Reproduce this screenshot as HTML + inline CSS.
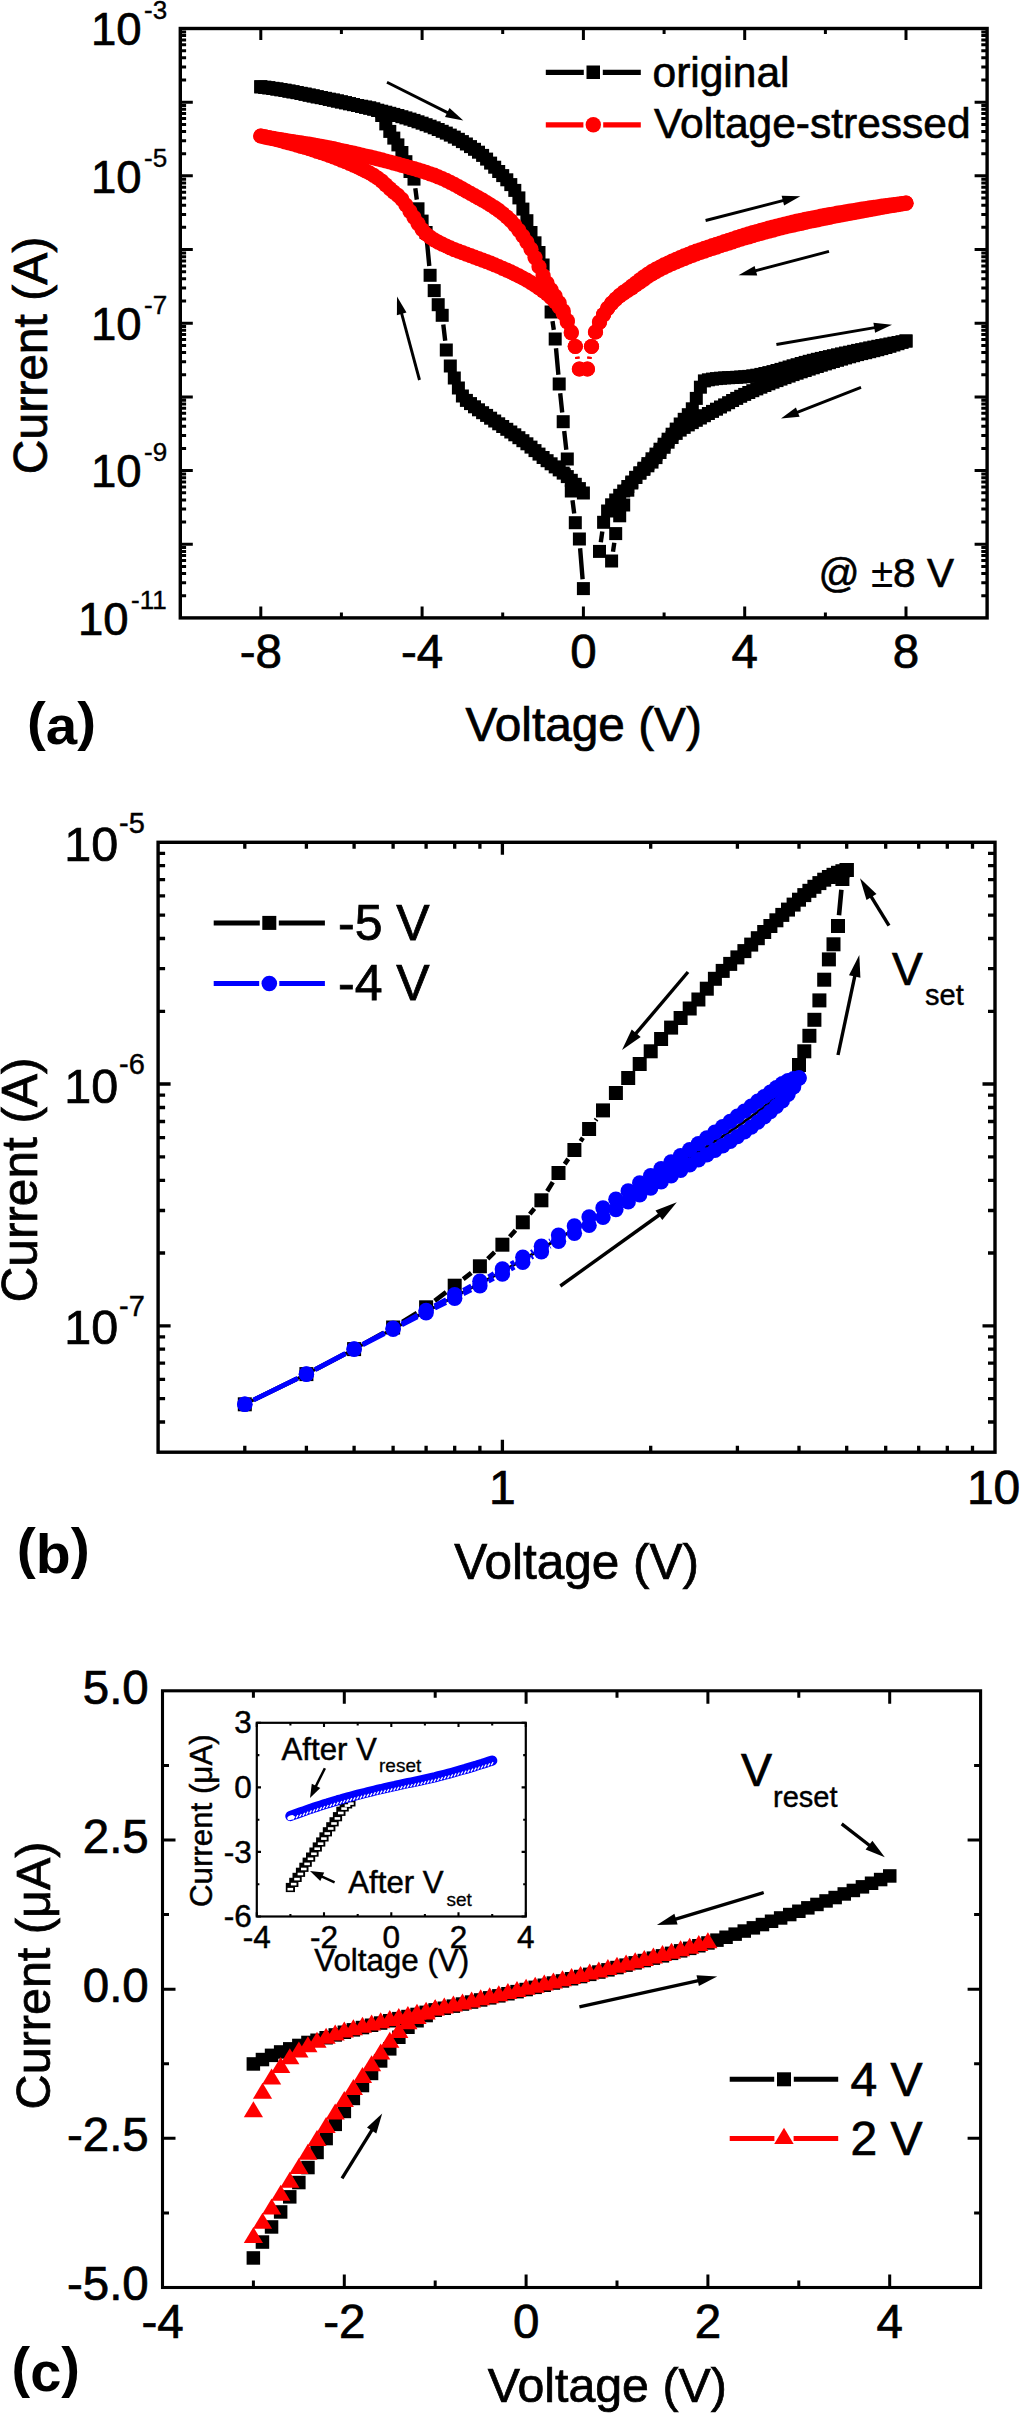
<!DOCTYPE html>
<html lang="en"><head><meta charset="utf-8"><title>I-V characteristics</title>
<style>html,body{margin:0;padding:0;background:#fff}svg{display:block}text{font-family:'Liberation Sans', sans-serif;fill:#000;stroke:#000}</style></head><body>
<svg width="1020" height="2413" viewBox="0 0 1020 2413">
<rect width="1020" height="2413" fill="#fff"/>
<g id="panel-a">
<path d="M544.7 274.2L545.5 278.8 M548.6 297.2L549.6 302.8 M552.5 321.2L553.8 329.8 M556 348.3L558.4 374.7 M560.2 393.2L562.2 412.5 M564.2 430.9L566.3 449.8 M568.4 468.2L570.1 481.8 M572.5 500.2L574.2 513.5 M580.1 548.3L582.6 579.3" stroke="#000" stroke-width="4.4" fill="none"/>
<g fill="#000">
<rect x="254.3" y="80.3" width="13" height="13"/>
<rect x="258.3" y="80.8" width="13" height="13"/>
<rect x="262.3" y="81.3" width="13" height="13"/>
<rect x="266.4" y="81.9" width="13" height="13"/>
<rect x="270.4" y="82.5" width="13" height="13"/>
<rect x="274.4" y="83.2" width="13" height="13"/>
<rect x="278.5" y="83.8" width="13" height="13"/>
<rect x="282.5" y="84.6" width="13" height="13"/>
<rect x="286.5" y="85.3" width="13" height="13"/>
<rect x="290.6" y="86.1" width="13" height="13"/>
<rect x="294.6" y="86.9" width="13" height="13"/>
<rect x="298.6" y="87.7" width="13" height="13"/>
<rect x="302.7" y="88.6" width="13" height="13"/>
<rect x="306.7" y="89.4" width="13" height="13"/>
<rect x="310.7" y="90.3" width="13" height="13"/>
<rect x="314.8" y="91.1" width="13" height="13"/>
<rect x="318.8" y="91.9" width="13" height="13"/>
<rect x="322.8" y="92.8" width="13" height="13"/>
<rect x="326.9" y="93.6" width="13" height="13"/>
<rect x="330.9" y="94.5" width="13" height="13"/>
<rect x="334.9" y="95.4" width="13" height="13"/>
<rect x="339" y="96.3" width="13" height="13"/>
<rect x="343" y="97.2" width="13" height="13"/>
<rect x="347" y="98.1" width="13" height="13"/>
<rect x="351.1" y="99" width="13" height="13"/>
<rect x="355.1" y="99.9" width="13" height="13"/>
<rect x="359.1" y="100.9" width="13" height="13"/>
<rect x="363.2" y="101.8" width="13" height="13"/>
<rect x="367.2" y="102.7" width="13" height="13"/>
<rect x="371.2" y="103.7" width="13" height="13"/>
<rect x="375.2" y="104.7" width="13" height="13"/>
<rect x="379.3" y="105.7" width="13" height="13"/>
<rect x="383.3" y="106.8" width="13" height="13"/>
<rect x="387.3" y="107.9" width="13" height="13"/>
<rect x="391.4" y="109" width="13" height="13"/>
<rect x="395.4" y="110.2" width="13" height="13"/>
<rect x="399.4" y="111.4" width="13" height="13"/>
<rect x="403.5" y="112.6" width="13" height="13"/>
<rect x="407.5" y="113.9" width="13" height="13"/>
<rect x="411.5" y="115.3" width="13" height="13"/>
<rect x="415.6" y="116.7" width="13" height="13"/>
<rect x="419.6" y="118.2" width="13" height="13"/>
<rect x="423.6" y="119.7" width="13" height="13"/>
<rect x="427.7" y="121.3" width="13" height="13"/>
<rect x="431.7" y="123" width="13" height="13"/>
<rect x="435.7" y="124.8" width="13" height="13"/>
<rect x="439.8" y="126.6" width="13" height="13"/>
<rect x="443.8" y="128.6" width="13" height="13"/>
<rect x="447.8" y="130.6" width="13" height="13"/>
<rect x="451.9" y="132.8" width="13" height="13"/>
<rect x="455.9" y="135.1" width="13" height="13"/>
<rect x="459.9" y="137.5" width="13" height="13"/>
<rect x="464" y="140.1" width="13" height="13"/>
<rect x="468" y="142.8" width="13" height="13"/>
<rect x="472" y="145.7" width="13" height="13"/>
<rect x="476.1" y="148.9" width="13" height="13"/>
<rect x="480.1" y="152.6" width="13" height="13"/>
<rect x="484.1" y="156.6" width="13" height="13"/>
<rect x="488.2" y="160.7" width="13" height="13"/>
<rect x="492.2" y="165" width="13" height="13"/>
<rect x="496.2" y="169.1" width="13" height="13"/>
<rect x="500.3" y="173.3" width="13" height="13"/>
<rect x="504.3" y="178.1" width="13" height="13"/>
<rect x="508.3" y="183.9" width="13" height="13"/>
<rect x="512.4" y="191.4" width="13" height="13"/>
<rect x="516.4" y="202.6" width="13" height="13"/>
<rect x="520.4" y="214.2" width="13" height="13"/>
<rect x="524.5" y="226" width="13" height="13"/>
<rect x="528.5" y="236.3" width="13" height="13"/>
<rect x="532.5" y="246" width="13" height="13"/>
<rect x="536.6" y="258.5" width="13" height="13"/>
<rect x="540.6" y="281.5" width="13" height="13"/>
<rect x="544.6" y="305.5" width="13" height="13"/>
<rect x="548.7" y="332.5" width="13" height="13"/>
<rect x="552.7" y="377.5" width="13" height="13"/>
<rect x="556.7" y="415.2" width="13" height="13"/>
<rect x="560.8" y="452.5" width="13" height="13"/>
<rect x="564.8" y="484.5" width="13" height="13"/>
<rect x="568.8" y="516.2" width="13" height="13"/>
<rect x="572.9" y="532.5" width="13" height="13"/>
<rect x="576.9" y="582.1" width="13" height="13"/>
</g>
<path d="M445.2 340.8L443.3 324.5 M429.3 266L427 241.8 M416.8 199.6L415.3 188.3" stroke="#000" stroke-width="4.4" fill="none"/>
<g fill="#000">
<rect x="576.9" y="486.5" width="13" height="13"/>
<rect x="572.9" y="482.1" width="13" height="13"/>
<rect x="568.8" y="477.8" width="13" height="13"/>
<rect x="564.8" y="473.8" width="13" height="13"/>
<rect x="560.8" y="470.1" width="13" height="13"/>
<rect x="556.7" y="466.6" width="13" height="13"/>
<rect x="552.7" y="463.4" width="13" height="13"/>
<rect x="548.7" y="460.4" width="13" height="13"/>
<rect x="544.6" y="457.3" width="13" height="13"/>
<rect x="540.6" y="454.2" width="13" height="13"/>
<rect x="536.6" y="451" width="13" height="13"/>
<rect x="532.5" y="447.6" width="13" height="13"/>
<rect x="528.5" y="444.1" width="13" height="13"/>
<rect x="524.5" y="440.6" width="13" height="13"/>
<rect x="520.4" y="437.3" width="13" height="13"/>
<rect x="516.4" y="434.2" width="13" height="13"/>
<rect x="512.4" y="431.2" width="13" height="13"/>
<rect x="508.3" y="428.3" width="13" height="13"/>
<rect x="504.3" y="425.5" width="13" height="13"/>
<rect x="500.3" y="422.8" width="13" height="13"/>
<rect x="496.2" y="420" width="13" height="13"/>
<rect x="492.2" y="417.3" width="13" height="13"/>
<rect x="488.2" y="414.5" width="13" height="13"/>
<rect x="484.1" y="411.7" width="13" height="13"/>
<rect x="480.1" y="408.9" width="13" height="13"/>
<rect x="476.1" y="406.2" width="13" height="13"/>
<rect x="472" y="403.3" width="13" height="13"/>
<rect x="468" y="400.3" width="13" height="13"/>
<rect x="464" y="397.1" width="13" height="13"/>
<rect x="459.9" y="393.9" width="13" height="13"/>
<rect x="455.9" y="389.5" width="13" height="13"/>
<rect x="451.9" y="381.5" width="13" height="13"/>
<rect x="447.8" y="371.5" width="13" height="13"/>
<rect x="443.8" y="359.5" width="13" height="13"/>
<rect x="439.8" y="343.5" width="13" height="13"/>
<rect x="435.7" y="308.8" width="13" height="13"/>
<rect x="431.7" y="298.2" width="13" height="13"/>
<rect x="427.7" y="284.1" width="13" height="13"/>
<rect x="423.6" y="268.8" width="13" height="13"/>
<rect x="419.6" y="226" width="13" height="13"/>
<rect x="415.6" y="214.6" width="13" height="13"/>
<rect x="411.5" y="202.3" width="13" height="13"/>
<rect x="407.5" y="172.6" width="13" height="13"/>
<rect x="403.5" y="165" width="13" height="13"/>
<rect x="399.4" y="155.2" width="13" height="13"/>
<rect x="395.4" y="146" width="13" height="13"/>
<rect x="391.4" y="138.4" width="13" height="13"/>
<rect x="387.3" y="131.6" width="13" height="13"/>
<rect x="383.3" y="124.9" width="13" height="13"/>
<rect x="379.3" y="117.4" width="13" height="13"/>
<rect x="375.2" y="109" width="13" height="13"/>
<rect x="371.2" y="104" width="13" height="13"/>
<rect x="367.2" y="102.4" width="13" height="13"/>
<rect x="363.2" y="101.3" width="13" height="13"/>
<rect x="359.1" y="100.5" width="13" height="13"/>
<rect x="355.1" y="99.8" width="13" height="13"/>
<rect x="351.1" y="99" width="13" height="13"/>
<rect x="347" y="98.1" width="13" height="13"/>
<rect x="343" y="97.2" width="13" height="13"/>
<rect x="339" y="96.2" width="13" height="13"/>
<rect x="334.9" y="95.4" width="13" height="13"/>
<rect x="330.9" y="94.5" width="13" height="13"/>
<rect x="326.9" y="93.6" width="13" height="13"/>
<rect x="322.8" y="92.8" width="13" height="13"/>
<rect x="318.8" y="91.9" width="13" height="13"/>
<rect x="314.8" y="91.1" width="13" height="13"/>
<rect x="310.7" y="90.3" width="13" height="13"/>
<rect x="306.7" y="89.4" width="13" height="13"/>
<rect x="302.7" y="88.6" width="13" height="13"/>
<rect x="298.6" y="87.7" width="13" height="13"/>
<rect x="294.6" y="86.9" width="13" height="13"/>
<rect x="290.6" y="86.1" width="13" height="13"/>
<rect x="286.5" y="85.3" width="13" height="13"/>
<rect x="282.5" y="84.6" width="13" height="13"/>
<rect x="278.5" y="83.8" width="13" height="13"/>
<rect x="274.4" y="83.2" width="13" height="13"/>
<rect x="270.4" y="82.5" width="13" height="13"/>
<rect x="266.4" y="81.9" width="13" height="13"/>
<rect x="262.3" y="81.3" width="13" height="13"/>
<rect x="258.3" y="80.8" width="13" height="13"/>
<rect x="254.3" y="80.3" width="13" height="13"/>
</g>
<path d="M600.8 542.2L602.3 531.5" stroke="#000" stroke-width="4.4" fill="none"/>
<g fill="#000">
<rect x="593" y="544.9" width="13" height="13"/>
<rect x="597.1" y="515.8" width="13" height="13"/>
<rect x="601.1" y="504.5" width="13" height="13"/>
<rect x="605.1" y="498.3" width="13" height="13"/>
<rect x="609.2" y="493.5" width="13" height="13"/>
<rect x="613.2" y="488.8" width="13" height="13"/>
<rect x="617.2" y="484.5" width="13" height="13"/>
<rect x="621.3" y="480" width="13" height="13"/>
<rect x="625.3" y="475.5" width="13" height="13"/>
<rect x="629.3" y="470.9" width="13" height="13"/>
<rect x="633.4" y="466.4" width="13" height="13"/>
<rect x="637.4" y="461.7" width="13" height="13"/>
<rect x="641.4" y="457.1" width="13" height="13"/>
<rect x="645.5" y="452.3" width="13" height="13"/>
<rect x="649.5" y="447.6" width="13" height="13"/>
<rect x="653.5" y="442.7" width="13" height="13"/>
<rect x="657.6" y="437.7" width="13" height="13"/>
<rect x="661.6" y="432.7" width="13" height="13"/>
<rect x="665.6" y="427.7" width="13" height="13"/>
<rect x="669.7" y="422.6" width="13" height="13"/>
<rect x="673.7" y="417.5" width="13" height="13"/>
<rect x="677.7" y="412.8" width="13" height="13"/>
<rect x="681.8" y="408.2" width="13" height="13"/>
<rect x="685.8" y="402.3" width="13" height="13"/>
<rect x="689.8" y="391.9" width="13" height="13"/>
<rect x="693.9" y="380.7" width="13" height="13"/>
<rect x="697.9" y="374.4" width="13" height="13"/>
<rect x="701.9" y="373.3" width="13" height="13"/>
<rect x="706" y="372.6" width="13" height="13"/>
<rect x="710" y="372.1" width="13" height="13"/>
<rect x="714" y="371.7" width="13" height="13"/>
<rect x="718.1" y="371.4" width="13" height="13"/>
<rect x="722.1" y="371.2" width="13" height="13"/>
<rect x="726.1" y="371" width="13" height="13"/>
<rect x="730.2" y="370.8" width="13" height="13"/>
<rect x="734.2" y="370.5" width="13" height="13"/>
<rect x="738.2" y="370.2" width="13" height="13"/>
<rect x="742.3" y="369.9" width="13" height="13"/>
<rect x="746.3" y="369.3" width="13" height="13"/>
<rect x="750.3" y="368.7" width="13" height="13"/>
<rect x="754.4" y="367.9" width="13" height="13"/>
<rect x="758.4" y="367" width="13" height="13"/>
<rect x="762.4" y="366.1" width="13" height="13"/>
<rect x="766.5" y="365.1" width="13" height="13"/>
<rect x="770.5" y="364" width="13" height="13"/>
<rect x="774.5" y="362.9" width="13" height="13"/>
<rect x="778.5" y="361.7" width="13" height="13"/>
<rect x="782.6" y="360.5" width="13" height="13"/>
<rect x="786.6" y="359.3" width="13" height="13"/>
<rect x="790.6" y="358.2" width="13" height="13"/>
<rect x="794.7" y="357" width="13" height="13"/>
<rect x="798.7" y="355.9" width="13" height="13"/>
<rect x="802.7" y="354.8" width="13" height="13"/>
<rect x="806.8" y="353.8" width="13" height="13"/>
<rect x="810.8" y="352.8" width="13" height="13"/>
<rect x="814.8" y="351.9" width="13" height="13"/>
<rect x="818.9" y="351" width="13" height="13"/>
<rect x="822.9" y="350.1" width="13" height="13"/>
<rect x="826.9" y="349.2" width="13" height="13"/>
<rect x="831" y="348.3" width="13" height="13"/>
<rect x="835" y="347.4" width="13" height="13"/>
<rect x="839" y="346.5" width="13" height="13"/>
<rect x="843.1" y="345.7" width="13" height="13"/>
<rect x="847.1" y="344.8" width="13" height="13"/>
<rect x="851.1" y="343.9" width="13" height="13"/>
<rect x="855.2" y="343.1" width="13" height="13"/>
<rect x="859.2" y="342.3" width="13" height="13"/>
<rect x="863.2" y="341.4" width="13" height="13"/>
<rect x="867.3" y="340.6" width="13" height="13"/>
<rect x="871.3" y="339.8" width="13" height="13"/>
<rect x="875.3" y="339" width="13" height="13"/>
<rect x="879.4" y="338.3" width="13" height="13"/>
<rect x="883.4" y="337.5" width="13" height="13"/>
<rect x="887.4" y="336.7" width="13" height="13"/>
<rect x="891.5" y="336" width="13" height="13"/>
<rect x="895.5" y="335.2" width="13" height="13"/>
<rect x="899.5" y="334.5" width="13" height="13"/>
</g>
<path d="M614.3 542.8L613 551.8" stroke="#000" stroke-width="4.4" fill="none"/>
<g fill="#000">
<rect x="899.5" y="334.5" width="13" height="13"/>
<rect x="895.5" y="335.9" width="13" height="13"/>
<rect x="891.5" y="337.2" width="13" height="13"/>
<rect x="887.4" y="338.5" width="13" height="13"/>
<rect x="883.4" y="339.8" width="13" height="13"/>
<rect x="879.4" y="341" width="13" height="13"/>
<rect x="875.3" y="342.1" width="13" height="13"/>
<rect x="871.3" y="343.2" width="13" height="13"/>
<rect x="867.3" y="344.2" width="13" height="13"/>
<rect x="863.2" y="345.2" width="13" height="13"/>
<rect x="859.2" y="346.2" width="13" height="13"/>
<rect x="855.2" y="347.1" width="13" height="13"/>
<rect x="851.1" y="348.1" width="13" height="13"/>
<rect x="847.1" y="349.2" width="13" height="13"/>
<rect x="843.1" y="350.3" width="13" height="13"/>
<rect x="839" y="351.4" width="13" height="13"/>
<rect x="835" y="352.6" width="13" height="13"/>
<rect x="831" y="353.8" width="13" height="13"/>
<rect x="826.9" y="355" width="13" height="13"/>
<rect x="822.9" y="356.2" width="13" height="13"/>
<rect x="818.9" y="357.4" width="13" height="13"/>
<rect x="814.8" y="358.7" width="13" height="13"/>
<rect x="810.8" y="360" width="13" height="13"/>
<rect x="806.8" y="361.3" width="13" height="13"/>
<rect x="802.7" y="362.6" width="13" height="13"/>
<rect x="798.7" y="364" width="13" height="13"/>
<rect x="794.7" y="365.3" width="13" height="13"/>
<rect x="790.6" y="366.7" width="13" height="13"/>
<rect x="786.6" y="368.1" width="13" height="13"/>
<rect x="782.6" y="369.6" width="13" height="13"/>
<rect x="778.5" y="371.1" width="13" height="13"/>
<rect x="774.5" y="372.6" width="13" height="13"/>
<rect x="770.5" y="374.1" width="13" height="13"/>
<rect x="766.5" y="375.7" width="13" height="13"/>
<rect x="762.4" y="377.3" width="13" height="13"/>
<rect x="758.4" y="379" width="13" height="13"/>
<rect x="754.4" y="380.7" width="13" height="13"/>
<rect x="750.3" y="382.4" width="13" height="13"/>
<rect x="746.3" y="384.2" width="13" height="13"/>
<rect x="742.3" y="386" width="13" height="13"/>
<rect x="738.2" y="387.9" width="13" height="13"/>
<rect x="734.2" y="389.8" width="13" height="13"/>
<rect x="730.2" y="391.9" width="13" height="13"/>
<rect x="726.1" y="394" width="13" height="13"/>
<rect x="722.1" y="396.2" width="13" height="13"/>
<rect x="718.1" y="398.4" width="13" height="13"/>
<rect x="714" y="400.5" width="13" height="13"/>
<rect x="710" y="402.7" width="13" height="13"/>
<rect x="706" y="404.9" width="13" height="13"/>
<rect x="701.9" y="407" width="13" height="13"/>
<rect x="697.9" y="409.2" width="13" height="13"/>
<rect x="693.9" y="411.5" width="13" height="13"/>
<rect x="689.8" y="413.8" width="13" height="13"/>
<rect x="685.8" y="416.1" width="13" height="13"/>
<rect x="681.8" y="418.4" width="13" height="13"/>
<rect x="677.7" y="420.9" width="13" height="13"/>
<rect x="673.7" y="423.6" width="13" height="13"/>
<rect x="669.7" y="426.9" width="13" height="13"/>
<rect x="665.6" y="431" width="13" height="13"/>
<rect x="661.6" y="435.7" width="13" height="13"/>
<rect x="657.6" y="440.8" width="13" height="13"/>
<rect x="653.5" y="446" width="13" height="13"/>
<rect x="649.5" y="451.1" width="13" height="13"/>
<rect x="645.5" y="455.6" width="13" height="13"/>
<rect x="641.4" y="459.3" width="13" height="13"/>
<rect x="637.4" y="462.9" width="13" height="13"/>
<rect x="633.4" y="466.6" width="13" height="13"/>
<rect x="629.3" y="470.9" width="13" height="13"/>
<rect x="625.3" y="476.5" width="13" height="13"/>
<rect x="621.3" y="483.7" width="13" height="13"/>
<rect x="617.2" y="498.5" width="13" height="13"/>
<rect x="613.2" y="509.3" width="13" height="13"/>
<rect x="609.2" y="527.1" width="13" height="13"/>
<rect x="605.1" y="554.5" width="13" height="13"/>
</g>
<path d="M577.2 356.7L577.5 358.8" stroke="#f00" stroke-width="4.4" fill="none"/>
<g fill="#f00">
<circle cx="260.8" cy="136" r="7.6"/>
<circle cx="264.8" cy="136.8" r="7.6"/>
<circle cx="268.8" cy="137.5" r="7.6"/>
<circle cx="272.9" cy="138.3" r="7.6"/>
<circle cx="276.9" cy="139" r="7.6"/>
<circle cx="280.9" cy="139.7" r="7.6"/>
<circle cx="285" cy="140.4" r="7.6"/>
<circle cx="289" cy="141" r="7.6"/>
<circle cx="293" cy="141.6" r="7.6"/>
<circle cx="297.1" cy="142.3" r="7.6"/>
<circle cx="301.1" cy="142.9" r="7.6"/>
<circle cx="305.1" cy="143.5" r="7.6"/>
<circle cx="309.2" cy="144.2" r="7.6"/>
<circle cx="313.2" cy="144.9" r="7.6"/>
<circle cx="317.2" cy="145.6" r="7.6"/>
<circle cx="321.3" cy="146.3" r="7.6"/>
<circle cx="325.3" cy="147.1" r="7.6"/>
<circle cx="329.3" cy="147.9" r="7.6"/>
<circle cx="333.4" cy="148.7" r="7.6"/>
<circle cx="337.4" cy="149.6" r="7.6"/>
<circle cx="341.4" cy="150.5" r="7.6"/>
<circle cx="345.5" cy="151.4" r="7.6"/>
<circle cx="349.5" cy="152.3" r="7.6"/>
<circle cx="353.5" cy="153.2" r="7.6"/>
<circle cx="357.6" cy="154.1" r="7.6"/>
<circle cx="361.6" cy="155" r="7.6"/>
<circle cx="365.6" cy="156" r="7.6"/>
<circle cx="369.7" cy="156.9" r="7.6"/>
<circle cx="373.7" cy="157.9" r="7.6"/>
<circle cx="377.7" cy="158.9" r="7.6"/>
<circle cx="381.8" cy="159.9" r="7.6"/>
<circle cx="385.8" cy="161" r="7.6"/>
<circle cx="389.8" cy="162" r="7.6"/>
<circle cx="393.8" cy="163.1" r="7.6"/>
<circle cx="397.9" cy="164.2" r="7.6"/>
<circle cx="401.9" cy="165.3" r="7.6"/>
<circle cx="405.9" cy="166.4" r="7.6"/>
<circle cx="410" cy="167.6" r="7.6"/>
<circle cx="414" cy="168.7" r="7.6"/>
<circle cx="418" cy="169.9" r="7.6"/>
<circle cx="422.1" cy="171.1" r="7.6"/>
<circle cx="426.1" cy="172.4" r="7.6"/>
<circle cx="430.1" cy="173.8" r="7.6"/>
<circle cx="434.2" cy="175.2" r="7.6"/>
<circle cx="438.2" cy="176.8" r="7.6"/>
<circle cx="442.2" cy="178.5" r="7.6"/>
<circle cx="446.3" cy="180.4" r="7.6"/>
<circle cx="450.3" cy="182.4" r="7.6"/>
<circle cx="454.3" cy="184.4" r="7.6"/>
<circle cx="458.4" cy="186.6" r="7.6"/>
<circle cx="462.4" cy="188.8" r="7.6"/>
<circle cx="466.4" cy="191.1" r="7.6"/>
<circle cx="470.5" cy="193.4" r="7.6"/>
<circle cx="474.5" cy="195.7" r="7.6"/>
<circle cx="478.5" cy="197.9" r="7.6"/>
<circle cx="482.6" cy="200.2" r="7.6"/>
<circle cx="486.6" cy="202.5" r="7.6"/>
<circle cx="490.6" cy="205" r="7.6"/>
<circle cx="494.7" cy="207.6" r="7.6"/>
<circle cx="498.7" cy="210.4" r="7.6"/>
<circle cx="502.7" cy="213.5" r="7.6"/>
<circle cx="506.8" cy="216.9" r="7.6"/>
<circle cx="510.8" cy="220.7" r="7.6"/>
<circle cx="514.8" cy="225.2" r="7.6"/>
<circle cx="518.9" cy="230.4" r="7.6"/>
<circle cx="522.9" cy="236" r="7.6"/>
<circle cx="526.9" cy="242.2" r="7.6"/>
<circle cx="531" cy="249.2" r="7.6"/>
<circle cx="535" cy="257.6" r="7.6"/>
<circle cx="539" cy="266.7" r="7.6"/>
<circle cx="543.1" cy="275.6" r="7.6"/>
<circle cx="547.1" cy="283.2" r="7.6"/>
<circle cx="551.1" cy="289.8" r="7.6"/>
<circle cx="555.2" cy="296.2" r="7.6"/>
<circle cx="559.2" cy="302.9" r="7.6"/>
<circle cx="563.2" cy="310.9" r="7.6"/>
<circle cx="567.3" cy="320.5" r="7.6"/>
<circle cx="571.3" cy="332" r="7.6"/>
<circle cx="575.3" cy="346.5" r="7.6"/>
<circle cx="579.4" cy="369" r="7.6"/>
</g>
<path d="M577.2 356.7L577.5 358.8" stroke="#f00" stroke-width="4.4" fill="none"/>
<g fill="#f00">
<circle cx="260.8" cy="136" r="7.6"/>
<circle cx="264.8" cy="136.9" r="7.6"/>
<circle cx="268.8" cy="137.8" r="7.6"/>
<circle cx="272.9" cy="138.7" r="7.6"/>
<circle cx="276.9" cy="139.7" r="7.6"/>
<circle cx="280.9" cy="140.7" r="7.6"/>
<circle cx="285" cy="141.8" r="7.6"/>
<circle cx="289" cy="142.8" r="7.6"/>
<circle cx="293" cy="144" r="7.6"/>
<circle cx="297.1" cy="145.1" r="7.6"/>
<circle cx="301.1" cy="146.3" r="7.6"/>
<circle cx="305.1" cy="147.5" r="7.6"/>
<circle cx="309.2" cy="148.7" r="7.6"/>
<circle cx="313.2" cy="150" r="7.6"/>
<circle cx="317.2" cy="151.3" r="7.6"/>
<circle cx="321.3" cy="152.7" r="7.6"/>
<circle cx="325.3" cy="154" r="7.6"/>
<circle cx="329.3" cy="155.5" r="7.6"/>
<circle cx="333.4" cy="157" r="7.6"/>
<circle cx="337.4" cy="158.5" r="7.6"/>
<circle cx="341.4" cy="160.1" r="7.6"/>
<circle cx="345.5" cy="161.7" r="7.6"/>
<circle cx="349.5" cy="163.4" r="7.6"/>
<circle cx="353.5" cy="165.2" r="7.6"/>
<circle cx="357.6" cy="167" r="7.6"/>
<circle cx="361.6" cy="168.9" r="7.6"/>
<circle cx="365.6" cy="170.9" r="7.6"/>
<circle cx="369.7" cy="173" r="7.6"/>
<circle cx="373.7" cy="175.4" r="7.6"/>
<circle cx="377.7" cy="178" r="7.6"/>
<circle cx="381.8" cy="181.1" r="7.6"/>
<circle cx="385.8" cy="184.8" r="7.6"/>
<circle cx="389.8" cy="188.6" r="7.6"/>
<circle cx="393.8" cy="192.2" r="7.6"/>
<circle cx="397.9" cy="195.4" r="7.6"/>
<circle cx="401.9" cy="199.4" r="7.6"/>
<circle cx="405.9" cy="205" r="7.6"/>
<circle cx="410" cy="211.4" r="7.6"/>
<circle cx="414" cy="217.4" r="7.6"/>
<circle cx="418" cy="223.6" r="7.6"/>
<circle cx="422.1" cy="229.5" r="7.6"/>
<circle cx="426.1" cy="234" r="7.6"/>
<circle cx="430.1" cy="237.1" r="7.6"/>
<circle cx="434.2" cy="239.8" r="7.6"/>
<circle cx="438.2" cy="242.1" r="7.6"/>
<circle cx="442.2" cy="244.1" r="7.6"/>
<circle cx="446.3" cy="246" r="7.6"/>
<circle cx="450.3" cy="247.8" r="7.6"/>
<circle cx="454.3" cy="249.6" r="7.6"/>
<circle cx="458.4" cy="251.2" r="7.6"/>
<circle cx="462.4" cy="252.7" r="7.6"/>
<circle cx="466.4" cy="254.2" r="7.6"/>
<circle cx="470.5" cy="255.6" r="7.6"/>
<circle cx="474.5" cy="257.1" r="7.6"/>
<circle cx="478.5" cy="258.6" r="7.6"/>
<circle cx="482.6" cy="260.1" r="7.6"/>
<circle cx="486.6" cy="261.6" r="7.6"/>
<circle cx="490.6" cy="263.2" r="7.6"/>
<circle cx="494.7" cy="264.8" r="7.6"/>
<circle cx="498.7" cy="266.5" r="7.6"/>
<circle cx="502.7" cy="268.3" r="7.6"/>
<circle cx="506.8" cy="270.1" r="7.6"/>
<circle cx="510.8" cy="271.9" r="7.6"/>
<circle cx="514.8" cy="273.9" r="7.6"/>
<circle cx="518.9" cy="275.9" r="7.6"/>
<circle cx="522.9" cy="278" r="7.6"/>
<circle cx="526.9" cy="280.2" r="7.6"/>
<circle cx="531" cy="282.6" r="7.6"/>
<circle cx="535" cy="285.2" r="7.6"/>
<circle cx="539" cy="288" r="7.6"/>
<circle cx="543.1" cy="290.8" r="7.6"/>
<circle cx="547.1" cy="294" r="7.6"/>
<circle cx="551.1" cy="297.7" r="7.6"/>
<circle cx="555.2" cy="302" r="7.6"/>
<circle cx="559.2" cy="307" r="7.6"/>
<circle cx="563.2" cy="313.5" r="7.6"/>
<circle cx="567.3" cy="322" r="7.6"/>
<circle cx="571.3" cy="333" r="7.6"/>
<circle cx="575.3" cy="346.5" r="7.6"/>
<circle cx="579.4" cy="369" r="7.6"/>
</g>
<path d="M589.3 358.8L589.6 356.7" stroke="#f00" stroke-width="4.4" fill="none"/>
<g fill="#f00">
<circle cx="587.4" cy="369" r="7.6"/>
<circle cx="591.5" cy="346.5" r="7.6"/>
<circle cx="595.5" cy="332" r="7.6"/>
<circle cx="599.5" cy="322.1" r="7.6"/>
<circle cx="603.6" cy="314.6" r="7.6"/>
<circle cx="607.6" cy="308.4" r="7.6"/>
<circle cx="611.6" cy="303.3" r="7.6"/>
<circle cx="615.7" cy="299" r="7.6"/>
<circle cx="619.7" cy="295.4" r="7.6"/>
<circle cx="623.7" cy="292.2" r="7.6"/>
<circle cx="627.8" cy="289.3" r="7.6"/>
<circle cx="631.8" cy="286.2" r="7.6"/>
<circle cx="635.8" cy="283" r="7.6"/>
<circle cx="639.9" cy="279.9" r="7.6"/>
<circle cx="643.9" cy="276.8" r="7.6"/>
<circle cx="647.9" cy="274" r="7.6"/>
<circle cx="652" cy="271.4" r="7.6"/>
<circle cx="656" cy="269.1" r="7.6"/>
<circle cx="660" cy="267" r="7.6"/>
<circle cx="664.1" cy="264.9" r="7.6"/>
<circle cx="668.1" cy="263" r="7.6"/>
<circle cx="672.1" cy="261.1" r="7.6"/>
<circle cx="676.2" cy="259.3" r="7.6"/>
<circle cx="680.2" cy="257.6" r="7.6"/>
<circle cx="684.2" cy="255.9" r="7.6"/>
<circle cx="688.3" cy="254.3" r="7.6"/>
<circle cx="692.3" cy="252.7" r="7.6"/>
<circle cx="696.3" cy="251.2" r="7.6"/>
<circle cx="700.4" cy="249.8" r="7.6"/>
<circle cx="704.4" cy="248.4" r="7.6"/>
<circle cx="708.4" cy="247" r="7.6"/>
<circle cx="712.5" cy="245.7" r="7.6"/>
<circle cx="716.5" cy="244.3" r="7.6"/>
<circle cx="720.5" cy="243" r="7.6"/>
<circle cx="724.6" cy="241.7" r="7.6"/>
<circle cx="728.6" cy="240.3" r="7.6"/>
<circle cx="732.6" cy="239" r="7.6"/>
<circle cx="736.7" cy="237.7" r="7.6"/>
<circle cx="740.7" cy="236.4" r="7.6"/>
<circle cx="744.7" cy="235.2" r="7.6"/>
<circle cx="748.8" cy="233.9" r="7.6"/>
<circle cx="752.8" cy="232.7" r="7.6"/>
<circle cx="756.8" cy="231.6" r="7.6"/>
<circle cx="760.9" cy="230.4" r="7.6"/>
<circle cx="764.9" cy="229.3" r="7.6"/>
<circle cx="768.9" cy="228.2" r="7.6"/>
<circle cx="773" cy="227.2" r="7.6"/>
<circle cx="777" cy="226.1" r="7.6"/>
<circle cx="781" cy="225.1" r="7.6"/>
<circle cx="785" cy="224.1" r="7.6"/>
<circle cx="789.1" cy="223.1" r="7.6"/>
<circle cx="793.1" cy="222.1" r="7.6"/>
<circle cx="797.1" cy="221.2" r="7.6"/>
<circle cx="801.2" cy="220.3" r="7.6"/>
<circle cx="805.2" cy="219.4" r="7.6"/>
<circle cx="809.2" cy="218.6" r="7.6"/>
<circle cx="813.3" cy="217.8" r="7.6"/>
<circle cx="817.3" cy="217" r="7.6"/>
<circle cx="821.3" cy="216.2" r="7.6"/>
<circle cx="825.4" cy="215.4" r="7.6"/>
<circle cx="829.4" cy="214.7" r="7.6"/>
<circle cx="833.4" cy="214" r="7.6"/>
<circle cx="837.5" cy="213.2" r="7.6"/>
<circle cx="841.5" cy="212.5" r="7.6"/>
<circle cx="845.5" cy="211.8" r="7.6"/>
<circle cx="849.6" cy="211.1" r="7.6"/>
<circle cx="853.6" cy="210.5" r="7.6"/>
<circle cx="857.6" cy="209.8" r="7.6"/>
<circle cx="861.7" cy="209.1" r="7.6"/>
<circle cx="865.7" cy="208.5" r="7.6"/>
<circle cx="869.7" cy="207.9" r="7.6"/>
<circle cx="873.8" cy="207.3" r="7.6"/>
<circle cx="877.8" cy="206.8" r="7.6"/>
<circle cx="881.8" cy="206.2" r="7.6"/>
<circle cx="885.9" cy="205.7" r="7.6"/>
<circle cx="889.9" cy="205.2" r="7.6"/>
<circle cx="893.9" cy="204.7" r="7.6"/>
<circle cx="898" cy="204.2" r="7.6"/>
<circle cx="902" cy="203.7" r="7.6"/>
<circle cx="906" cy="203.2" r="7.6"/>
</g>
<path d="M589.3 358.8L589.6 356.7" stroke="#f00" stroke-width="4.4" fill="none"/>
<g fill="#f00">
<circle cx="587.4" cy="369" r="7.6"/>
<circle cx="591.5" cy="346.5" r="7.6"/>
<circle cx="595.5" cy="332" r="7.6"/>
<circle cx="599.5" cy="322.1" r="7.6"/>
<circle cx="603.6" cy="314.6" r="7.6"/>
<circle cx="607.6" cy="308.4" r="7.6"/>
<circle cx="611.6" cy="303.3" r="7.6"/>
<circle cx="615.7" cy="299.3" r="7.6"/>
<circle cx="619.7" cy="296" r="7.6"/>
<circle cx="623.7" cy="293.2" r="7.6"/>
<circle cx="627.8" cy="290.5" r="7.6"/>
<circle cx="631.8" cy="287.8" r="7.6"/>
<circle cx="635.8" cy="284.9" r="7.6"/>
<circle cx="639.9" cy="282.1" r="7.6"/>
<circle cx="643.9" cy="279.3" r="7.6"/>
<circle cx="647.9" cy="276.5" r="7.6"/>
<circle cx="652" cy="273.9" r="7.6"/>
<circle cx="656" cy="271.6" r="7.6"/>
<circle cx="660" cy="269.5" r="7.6"/>
<circle cx="664.1" cy="267.5" r="7.6"/>
<circle cx="668.1" cy="265.5" r="7.6"/>
<circle cx="672.1" cy="263.7" r="7.6"/>
<circle cx="676.2" cy="261.9" r="7.6"/>
<circle cx="680.2" cy="260.2" r="7.6"/>
<circle cx="684.2" cy="258.6" r="7.6"/>
<circle cx="688.3" cy="257" r="7.6"/>
<circle cx="692.3" cy="255.4" r="7.6"/>
<circle cx="696.3" cy="253.9" r="7.6"/>
<circle cx="700.4" cy="252.4" r="7.6"/>
<circle cx="704.4" cy="251.1" r="7.6"/>
<circle cx="708.4" cy="249.7" r="7.6"/>
<circle cx="712.5" cy="248.4" r="7.6"/>
<circle cx="716.5" cy="247.1" r="7.6"/>
<circle cx="720.5" cy="245.7" r="7.6"/>
<circle cx="724.6" cy="244.4" r="7.6"/>
<circle cx="728.6" cy="243.1" r="7.6"/>
<circle cx="732.6" cy="241.8" r="7.6"/>
<circle cx="736.7" cy="240.5" r="7.6"/>
<circle cx="740.7" cy="239.2" r="7.6"/>
<circle cx="744.7" cy="238" r="7.6"/>
<circle cx="748.8" cy="236.8" r="7.6"/>
<circle cx="752.8" cy="235.6" r="7.6"/>
<circle cx="756.8" cy="234.4" r="7.6"/>
<circle cx="760.9" cy="233.3" r="7.6"/>
<circle cx="764.9" cy="232.2" r="7.6"/>
<circle cx="768.9" cy="231.1" r="7.6"/>
<circle cx="773" cy="230.1" r="7.6"/>
<circle cx="777" cy="229" r="7.6"/>
<circle cx="781" cy="228" r="7.6"/>
<circle cx="785" cy="227" r="7.6"/>
<circle cx="789.1" cy="226" r="7.6"/>
<circle cx="793.1" cy="225.1" r="7.6"/>
<circle cx="797.1" cy="224.2" r="7.6"/>
<circle cx="801.2" cy="223.3" r="7.6"/>
<circle cx="805.2" cy="222.4" r="7.6"/>
<circle cx="809.2" cy="221.5" r="7.6"/>
<circle cx="813.3" cy="220.6" r="7.6"/>
<circle cx="817.3" cy="219.8" r="7.6"/>
<circle cx="821.3" cy="218.9" r="7.6"/>
<circle cx="825.4" cy="218.1" r="7.6"/>
<circle cx="829.4" cy="217.3" r="7.6"/>
<circle cx="833.4" cy="216.5" r="7.6"/>
<circle cx="837.5" cy="215.7" r="7.6"/>
<circle cx="841.5" cy="214.9" r="7.6"/>
<circle cx="845.5" cy="214.2" r="7.6"/>
<circle cx="849.6" cy="213.4" r="7.6"/>
<circle cx="853.6" cy="212.7" r="7.6"/>
<circle cx="857.6" cy="211.9" r="7.6"/>
<circle cx="861.7" cy="211.2" r="7.6"/>
<circle cx="865.7" cy="210.5" r="7.6"/>
<circle cx="869.7" cy="209.7" r="7.6"/>
<circle cx="873.8" cy="208.9" r="7.6"/>
<circle cx="877.8" cy="208.2" r="7.6"/>
<circle cx="881.8" cy="207.4" r="7.6"/>
<circle cx="885.9" cy="206.7" r="7.6"/>
<circle cx="889.9" cy="206" r="7.6"/>
<circle cx="893.9" cy="205.3" r="7.6"/>
<circle cx="898" cy="204.6" r="7.6"/>
<circle cx="902" cy="203.9" r="7.6"/>
<circle cx="906" cy="203.2" r="7.6"/>
</g>
<rect x="180.3" y="28.5" width="806.8" height="589.4" fill="none" stroke="#000" stroke-width="3.4"/>
<path d="M180.3 80L186.1 80 M987.1 80L981.3 80 M180.3 67L186.1 67 M987.1 67L981.3 67 M180.3 57.8L186.1 57.8 M987.1 57.8L981.3 57.8 M180.3 50.7L186.1 50.7 M987.1 50.7L981.3 50.7 M180.3 44.8L186.1 44.8 M987.1 44.8L981.3 44.8 M180.3 39.9L186.1 39.9 M987.1 39.9L981.3 39.9 M180.3 35.6L186.1 35.6 M987.1 35.6L981.3 35.6 M180.3 31.9L186.1 31.9 M987.1 31.9L981.3 31.9 M180.3 102.2L192.8 102.2 M987.1 102.2L974.6 102.2 M180.3 153.7L186.1 153.7 M987.1 153.7L981.3 153.7 M180.3 140.7L186.1 140.7 M987.1 140.7L981.3 140.7 M180.3 131.5L186.1 131.5 M987.1 131.5L981.3 131.5 M180.3 124.4L186.1 124.4 M987.1 124.4L981.3 124.4 M180.3 118.5L186.1 118.5 M987.1 118.5L981.3 118.5 M180.3 113.6L186.1 113.6 M987.1 113.6L981.3 113.6 M180.3 109.3L186.1 109.3 M987.1 109.3L981.3 109.3 M180.3 105.5L186.1 105.5 M987.1 105.5L981.3 105.5 M180.3 175.8L192.8 175.8 M987.1 175.8L974.6 175.8 M180.3 227.3L186.1 227.3 M987.1 227.3L981.3 227.3 M180.3 214.4L186.1 214.4 M987.1 214.4L981.3 214.4 M180.3 205.2L186.1 205.2 M987.1 205.2L981.3 205.2 M180.3 198L186.1 198 M987.1 198L981.3 198 M180.3 192.2L186.1 192.2 M987.1 192.2L981.3 192.2 M180.3 187.3L186.1 187.3 M987.1 187.3L981.3 187.3 M180.3 183L186.1 183 M987.1 183L981.3 183 M180.3 179.2L186.1 179.2 M987.1 179.2L981.3 179.2 M180.3 249.5L192.8 249.5 M987.1 249.5L974.6 249.5 M180.3 301L186.1 301 M987.1 301L981.3 301 M180.3 288L186.1 288 M987.1 288L981.3 288 M180.3 278.8L186.1 278.8 M987.1 278.8L981.3 278.8 M180.3 271.7L186.1 271.7 M987.1 271.7L981.3 271.7 M180.3 265.9L186.1 265.9 M987.1 265.9L981.3 265.9 M180.3 260.9L186.1 260.9 M987.1 260.9L981.3 260.9 M180.3 256.7L186.1 256.7 M987.1 256.7L981.3 256.7 M180.3 252.9L186.1 252.9 M987.1 252.9L981.3 252.9 M180.3 323.2L192.8 323.2 M987.1 323.2L974.6 323.2 M180.3 374.7L186.1 374.7 M987.1 374.7L981.3 374.7 M180.3 361.7L186.1 361.7 M987.1 361.7L981.3 361.7 M180.3 352.5L186.1 352.5 M987.1 352.5L981.3 352.5 M180.3 345.4L186.1 345.4 M987.1 345.4L981.3 345.4 M180.3 339.5L186.1 339.5 M987.1 339.5L981.3 339.5 M180.3 334.6L186.1 334.6 M987.1 334.6L981.3 334.6 M180.3 330.3L186.1 330.3 M987.1 330.3L981.3 330.3 M180.3 326.6L186.1 326.6 M987.1 326.6L981.3 326.6 M180.3 396.9L192.8 396.9 M987.1 396.9L974.6 396.9 M180.3 448.4L186.1 448.4 M987.1 448.4L981.3 448.4 M180.3 435.4L186.1 435.4 M987.1 435.4L981.3 435.4 M180.3 426.2L186.1 426.2 M987.1 426.2L981.3 426.2 M180.3 419.1L186.1 419.1 M987.1 419.1L981.3 419.1 M180.3 413.2L186.1 413.2 M987.1 413.2L981.3 413.2 M180.3 408.3L186.1 408.3 M987.1 408.3L981.3 408.3 M180.3 404L186.1 404 M987.1 404L981.3 404 M180.3 400.2L186.1 400.2 M987.1 400.2L981.3 400.2 M180.3 470.5L192.8 470.5 M987.1 470.5L974.6 470.5 M180.3 522L186.1 522 M987.1 522L981.3 522 M180.3 509.1L186.1 509.1 M987.1 509.1L981.3 509.1 M180.3 499.9L186.1 499.9 M987.1 499.9L981.3 499.9 M180.3 492.7L186.1 492.7 M987.1 492.7L981.3 492.7 M180.3 486.9L186.1 486.9 M987.1 486.9L981.3 486.9 M180.3 482L186.1 482 M987.1 482L981.3 482 M180.3 477.7L186.1 477.7 M987.1 477.7L981.3 477.7 M180.3 473.9L186.1 473.9 M987.1 473.9L981.3 473.9 M180.3 544.2L192.8 544.2 M987.1 544.2L974.6 544.2 M180.3 595.7L186.1 595.7 M987.1 595.7L981.3 595.7 M180.3 582.7L186.1 582.7 M987.1 582.7L981.3 582.7 M180.3 573.5L186.1 573.5 M987.1 573.5L981.3 573.5 M180.3 566.4L186.1 566.4 M987.1 566.4L981.3 566.4 M180.3 560.6L186.1 560.6 M987.1 560.6L981.3 560.6 M180.3 555.6L186.1 555.6 M987.1 555.6L981.3 555.6 M180.3 551.4L186.1 551.4 M987.1 551.4L981.3 551.4 M180.3 547.6L186.1 547.6 M987.1 547.6L981.3 547.6 M260.8 617.9L260.8 606.4 M260.8 28.5L260.8 40 M341.4 617.9L341.4 612.4 M341.4 28.5L341.4 34 M422.1 617.9L422.1 606.4 M422.1 28.5L422.1 40 M502.7 617.9L502.7 612.4 M502.7 28.5L502.7 34 M583.4 617.9L583.4 606.4 M583.4 28.5L583.4 40 M664.1 617.9L664.1 612.4 M664.1 28.5L664.1 34 M744.7 617.9L744.7 606.4 M744.7 28.5L744.7 40 M825.4 617.9L825.4 612.4 M825.4 28.5L825.4 34 M906 617.9L906 606.4 M906 28.5L906 40" stroke="#000" stroke-width="3.0" fill="none"/>
<text x="141.5" y="45.3" font-size="45.5" text-anchor="end" font-weight="normal" stroke-width="0.68">10</text>
<text x="144" y="19.3" font-size="26" text-anchor="start" font-weight="normal" stroke-width="0.39">-3</text>
<text x="141.5" y="192.7" font-size="45.5" text-anchor="end" font-weight="normal" stroke-width="0.68">10</text>
<text x="144" y="166.7" font-size="26" text-anchor="start" font-weight="normal" stroke-width="0.39">-5</text>
<text x="141.5" y="340" font-size="45.5" text-anchor="end" font-weight="normal" stroke-width="0.68">10</text>
<text x="144" y="314" font-size="26" text-anchor="start" font-weight="normal" stroke-width="0.39">-7</text>
<text x="141.5" y="487.3" font-size="45.5" text-anchor="end" font-weight="normal" stroke-width="0.68">10</text>
<text x="144" y="461.3" font-size="26" text-anchor="start" font-weight="normal" stroke-width="0.39">-9</text>
<text x="128.5" y="634.7" font-size="45.5" text-anchor="end" font-weight="normal" stroke-width="0.68">10</text>
<text x="131" y="608.7" font-size="26" text-anchor="start" font-weight="normal" stroke-width="0.39">-11</text>
<text x="260.8" y="668" font-size="47.5" text-anchor="middle" font-weight="normal" stroke-width="0.71">-8</text>
<text x="422.1" y="668" font-size="47.5" text-anchor="middle" font-weight="normal" stroke-width="0.71">-4</text>
<text x="583.4" y="668" font-size="47.5" text-anchor="middle" font-weight="normal" stroke-width="0.71">0</text>
<text x="744.7" y="668" font-size="47.5" text-anchor="middle" font-weight="normal" stroke-width="0.71">4</text>
<text x="906" y="668" font-size="47.5" text-anchor="middle" font-weight="normal" stroke-width="0.71">8</text>
<text x="583.7" y="741.3" font-size="47.8" text-anchor="middle" font-weight="normal" stroke-width="0.72">Voltage (V)</text>
<text x="46.7" y="355.5" font-size="48" text-anchor="middle" font-weight="normal" stroke-width="0.72" transform="rotate(-90 46.7 355.5)">Current (A)</text>
<text x="27" y="744" font-size="54.5" font-weight="bold" stroke-width="0" textLength="69" lengthAdjust="spacingAndGlyphs"><tspan dy="-4">(</tspan><tspan dy="4">a</tspan><tspan dy="-4">)</tspan></text>
<line x1="545.8" y1="72.3" x2="583.8" y2="72.3" stroke="#000" stroke-width="5.2" stroke-linecap="butt"/>
<line x1="602.8" y1="72.3" x2="640.8" y2="72.3" stroke="#000" stroke-width="5.2" stroke-linecap="butt"/>
<g fill="#000">
<rect x="586.5" y="65.5" width="13.5" height="13.5"/>
</g>
<line x1="545.8" y1="124.8" x2="583.4" y2="124.8" stroke="#f00" stroke-width="5.2" stroke-linecap="butt"/>
<line x1="603.2" y1="124.8" x2="640.8" y2="124.8" stroke="#f00" stroke-width="5.2" stroke-linecap="butt"/>
<g fill="#f00">
<circle cx="593.3" cy="124.8" r="7.7"/>
</g>
<text x="652.5" y="86.5" font-size="42.5" text-anchor="start" font-weight="normal" stroke-width="0.64">original</text>
<text x="654" y="138.3" font-size="42.5" text-anchor="start" font-weight="normal" stroke-width="0.64">Voltage-stressed</text>
<text x="818.5" y="587" font-size="40.5" text-anchor="start" font-weight="normal" stroke-width="0.61">@ <tspan stroke-width="0">&#177;</tspan>8 V</text>
<line x1="387" y1="82.3" x2="449" y2="113.4" stroke="#000" stroke-width="2.9" stroke-linecap="butt"/>
<polygon points="463.3,120.6 445,117 449.5,108.1" fill="#000"/>
<line x1="419.5" y1="380" x2="401.2" y2="311.9" stroke="#000" stroke-width="2.9" stroke-linecap="butt"/>
<polygon points="397,296.5 406.5,312.6 396.9,315.2" fill="#000"/>
<line x1="705.6" y1="220.5" x2="784.8" y2="200.2" stroke="#000" stroke-width="2.9" stroke-linecap="butt"/>
<polygon points="800.3,196.2 784.1,205.5 781.6,195.8" fill="#000"/>
<line x1="829" y1="251.4" x2="754" y2="271.2" stroke="#000" stroke-width="2.9" stroke-linecap="butt"/>
<polygon points="738.5,275.3 754.6,265.9 757.2,275.5" fill="#000"/>
<line x1="776.4" y1="344.5" x2="876.2" y2="327.4" stroke="#000" stroke-width="2.9" stroke-linecap="butt"/>
<polygon points="892,324.7 875.1,332.7 873.4,322.8" fill="#000"/>
<line x1="861" y1="387.3" x2="795.9" y2="412.8" stroke="#000" stroke-width="2.9" stroke-linecap="butt"/>
<polygon points="781,418.6 795.9,407.4 799.6,416.7" fill="#000"/>
</g>
<g id="panel-b">
<path d="M244.8 1404.3 L306.4 1374.1 L354.1 1349.1 L393.1 1328.8 L426.1 1311.6 L454.7 1296.5 L479.9 1283.5 L502.4 1271.5 L522.8 1259.8 L541.4 1249 L558.5 1238.2 L574.4 1229.6 L589.1 1221.2 L603 1212.7 L615.9 1204.4 L628.2 1196.4 L639.7 1188.9 L650.7 1181.8 L661.1 1175.2 L671.1 1168.9 L680.6 1162.9 L689.7 1157.2 L698.4 1151.7 L706.8 1146.4 L714.9 1141.2 L722.7 1136.2 L730.2 1131.3 L737.4 1126.4 L744.4 1121.5 L751.2 1116.6 L757.8 1111.7 L764.2 1106.8 L770.4 1101.9 L776.4 1097 L782.3 1092.2 L788 1087.5 L793.6 1082.7 L799 1078" stroke="#000" stroke-width="3" fill="none"/>
<path d="M839 915.2L841.4 889.8" stroke="#000" stroke-width="4.6" fill="none"/>
<g fill="#000">
<rect x="792" y="1058" width="14" height="14"/>
<rect x="797.3" y="1044.3" width="14" height="14"/>
<rect x="802.4" y="1028.8" width="14" height="14"/>
<rect x="807.4" y="1012.8" width="14" height="14"/>
<rect x="812.4" y="993.4" width="14" height="14"/>
<rect x="817.2" y="972.7" width="14" height="14"/>
<rect x="821.9" y="952.4" width="14" height="14"/>
<rect x="826.5" y="937.3" width="14" height="14"/>
<rect x="831" y="919" width="14" height="14"/>
<rect x="835.4" y="872" width="14" height="14"/>
<rect x="839.7" y="863" width="14" height="14"/>
</g>
<path d="M596.5 1119.1L595.6 1120.3 M582.9 1137.8L580.6 1141.2 M568.3 1158.9L564.7 1164.1 M552.8 1182.1L547.2 1191.2 M534.4 1208.5L529.8 1214.1 M515.5 1230.3L509.7 1236.7 M494.6 1252.2L487.7 1258.8 M471.3 1272.9L463.2 1279.1 M446.1 1292.2L434.7 1300.8 M416.9 1312.9L402.3 1321.9 M383.7 1332.7L363.6 1343.9 M344.6 1354.1L316 1369.1 M296.7 1378.9L254.5 1399.5" stroke="#000" stroke-width="4.6" fill="none"/>
<g fill="#000">
<rect x="839.7" y="863" width="14" height="14"/>
<rect x="835.4" y="864.2" width="14" height="14"/>
<rect x="831" y="865.8" width="14" height="14"/>
<rect x="826.5" y="867.8" width="14" height="14"/>
<rect x="821.9" y="870" width="14" height="14"/>
<rect x="817.2" y="872.7" width="14" height="14"/>
<rect x="812.4" y="876.1" width="14" height="14"/>
<rect x="807.4" y="879.8" width="14" height="14"/>
<rect x="802.4" y="883.8" width="14" height="14"/>
<rect x="797.3" y="888.1" width="14" height="14"/>
<rect x="792" y="892.7" width="14" height="14"/>
<rect x="786.6" y="897.6" width="14" height="14"/>
<rect x="781" y="902.6" width="14" height="14"/>
<rect x="775.3" y="907.9" width="14" height="14"/>
<rect x="769.4" y="913.3" width="14" height="14"/>
<rect x="763.4" y="919" width="14" height="14"/>
<rect x="757.2" y="925" width="14" height="14"/>
<rect x="750.8" y="931.2" width="14" height="14"/>
<rect x="744.2" y="937.6" width="14" height="14"/>
<rect x="737.4" y="944.1" width="14" height="14"/>
<rect x="730.4" y="950.4" width="14" height="14"/>
<rect x="723.2" y="956.9" width="14" height="14"/>
<rect x="715.7" y="963.9" width="14" height="14"/>
<rect x="707.9" y="971.8" width="14" height="14"/>
<rect x="699.8" y="981.7" width="14" height="14"/>
<rect x="691.4" y="992.5" width="14" height="14"/>
<rect x="682.7" y="1001.5" width="14" height="14"/>
<rect x="673.6" y="1011" width="14" height="14"/>
<rect x="664.1" y="1020.6" width="14" height="14"/>
<rect x="654.1" y="1032" width="14" height="14"/>
<rect x="643.7" y="1044.3" width="14" height="14"/>
<rect x="632.7" y="1057" width="14" height="14"/>
<rect x="621.2" y="1071" width="14" height="14"/>
<rect x="608.9" y="1086" width="14" height="14"/>
<rect x="596" y="1103.4" width="14" height="14"/>
<rect x="582.1" y="1122" width="14" height="14"/>
<rect x="567.4" y="1143" width="14" height="14"/>
<rect x="551.5" y="1166" width="14" height="14"/>
<rect x="534.4" y="1193.3" width="14" height="14"/>
<rect x="515.8" y="1215.3" width="14" height="14"/>
<rect x="495.4" y="1237.7" width="14" height="14"/>
<rect x="472.9" y="1259.3" width="14" height="14"/>
<rect x="447.7" y="1278.7" width="14" height="14"/>
<rect x="419.1" y="1300.3" width="14" height="14"/>
<rect x="386.1" y="1320.5" width="14" height="14"/>
<rect x="347.1" y="1342.1" width="14" height="14"/>
<rect x="299.4" y="1367.1" width="14" height="14"/>
<rect x="237.8" y="1397.3" width="14" height="14"/>
</g>
<path d="M253.6 1400L297.7 1378.4 M315 1369.7L345.5 1353.8 M362.7 1344.9L384.5 1333.7 M401.8 1324.9L417.4 1317 M434.8 1308.3L446 1302.6 M463.4 1293.9L471.2 1290 M488.5 1281.2L493.8 1278.5 M510.8 1269.2L514.4 1267.2 M531.2 1257.6L533 1256.6 M549.7 1246.7L550.2 1246.4" stroke="#00f" stroke-width="4.6" fill="none"/>
<g fill="#00f">
<circle cx="244.8" cy="1404.3" r="7.7"/>
<circle cx="306.4" cy="1374.2" r="7.7"/>
<circle cx="354.1" cy="1349.3" r="7.7"/>
<circle cx="393.1" cy="1329.3" r="7.7"/>
<circle cx="426.1" cy="1312.7" r="7.7"/>
<circle cx="454.7" cy="1298.2" r="7.7"/>
<circle cx="479.9" cy="1285.7" r="7.7"/>
<circle cx="502.4" cy="1274" r="7.7"/>
<circle cx="522.8" cy="1262.4" r="7.7"/>
<circle cx="541.4" cy="1251.8" r="7.7"/>
<circle cx="558.5" cy="1241.3" r="7.7"/>
<circle cx="574.4" cy="1233.3" r="7.7"/>
<circle cx="589.1" cy="1225.4" r="7.7"/>
<circle cx="603" cy="1217.4" r="7.7"/>
<circle cx="615.9" cy="1209.5" r="7.7"/>
<circle cx="628.2" cy="1201.9" r="7.7"/>
<circle cx="639.7" cy="1194.7" r="7.7"/>
<circle cx="650.7" cy="1188.1" r="7.7"/>
<circle cx="661.1" cy="1181.8" r="7.7"/>
<circle cx="671.1" cy="1175.8" r="7.7"/>
<circle cx="680.6" cy="1170.2" r="7.7"/>
<circle cx="689.7" cy="1164.8" r="7.7"/>
<circle cx="698.4" cy="1159.7" r="7.7"/>
<circle cx="706.8" cy="1154.9" r="7.7"/>
<circle cx="714.9" cy="1150.2" r="7.7"/>
<circle cx="722.7" cy="1145.7" r="7.7"/>
<circle cx="730.2" cy="1141.2" r="7.7"/>
<circle cx="737.4" cy="1136.6" r="7.7"/>
<circle cx="744.4" cy="1131.9" r="7.7"/>
<circle cx="751.2" cy="1127.1" r="7.7"/>
<circle cx="757.8" cy="1122.1" r="7.7"/>
<circle cx="764.2" cy="1116.9" r="7.7"/>
<circle cx="770.4" cy="1111.6" r="7.7"/>
<circle cx="776.4" cy="1106.2" r="7.7"/>
<circle cx="782.3" cy="1100.7" r="7.7"/>
<circle cx="788" cy="1094.3" r="7.7"/>
<circle cx="793.6" cy="1086.7" r="7.7"/>
<circle cx="799" cy="1078" r="7.7"/>
</g>
<path d="M550.4 1240.4L549.5 1240.9 M533 1251.2L531.2 1252.3 M514.4 1262L510.8 1264.1 M493.9 1273.6L488.4 1276.7 M471.3 1285.9L463.2 1290.2 M446.2 1299.4L434.6 1305.8 M417.6 1315.1L401.7 1323.7 M384.5 1332.8L362.7 1344.3 M345.5 1353.4L315 1369.5 M297.7 1378.3L253.5 1400" stroke="#00f" stroke-width="4.6" fill="none"/>
<g fill="#00f">
<circle cx="799" cy="1078" r="7.7"/>
<circle cx="793.6" cy="1078.7" r="7.7"/>
<circle cx="788" cy="1080.6" r="7.7"/>
<circle cx="782.3" cy="1083.7" r="7.7"/>
<circle cx="776.4" cy="1087.8" r="7.7"/>
<circle cx="770.4" cy="1092.1" r="7.7"/>
<circle cx="764.2" cy="1096.6" r="7.7"/>
<circle cx="757.8" cy="1101.2" r="7.7"/>
<circle cx="751.2" cy="1106.1" r="7.7"/>
<circle cx="744.4" cy="1111.1" r="7.7"/>
<circle cx="737.4" cy="1116.2" r="7.7"/>
<circle cx="730.2" cy="1121.4" r="7.7"/>
<circle cx="722.7" cy="1126.8" r="7.7"/>
<circle cx="714.9" cy="1132.3" r="7.7"/>
<circle cx="706.8" cy="1137.9" r="7.7"/>
<circle cx="698.4" cy="1143.7" r="7.7"/>
<circle cx="689.7" cy="1149.6" r="7.7"/>
<circle cx="680.6" cy="1155.7" r="7.7"/>
<circle cx="671.1" cy="1162" r="7.7"/>
<circle cx="661.1" cy="1168.7" r="7.7"/>
<circle cx="650.7" cy="1175.6" r="7.7"/>
<circle cx="639.7" cy="1183" r="7.7"/>
<circle cx="628.2" cy="1191" r="7.7"/>
<circle cx="615.9" cy="1199.3" r="7.7"/>
<circle cx="603" cy="1208" r="7.7"/>
<circle cx="589.1" cy="1216.9" r="7.7"/>
<circle cx="574.4" cy="1225.9" r="7.7"/>
<circle cx="558.5" cy="1235.1" r="7.7"/>
<circle cx="541.4" cy="1246.2" r="7.7"/>
<circle cx="522.8" cy="1257.2" r="7.7"/>
<circle cx="502.4" cy="1269" r="7.7"/>
<circle cx="479.9" cy="1281.3" r="7.7"/>
<circle cx="454.7" cy="1294.8" r="7.7"/>
<circle cx="426.1" cy="1310.5" r="7.7"/>
<circle cx="393.1" cy="1328.3" r="7.7"/>
<circle cx="354.1" cy="1348.9" r="7.7"/>
<circle cx="306.4" cy="1374" r="7.7"/>
<circle cx="244.8" cy="1404.3" r="7.7"/>
</g>
<rect x="158.1" y="842.3" width="836.9" height="609.9" fill="none" stroke="#000" stroke-width="3.4"/>
<path d="M158.1 1011.3L165.1 1011.3 M995 1011.3L988 1011.3 M158.1 968.7L165.1 968.7 M995 968.7L988 968.7 M158.1 938.5L165.1 938.5 M995 938.5L988 938.5 M158.1 915.1L165.1 915.1 M995 915.1L988 915.1 M158.1 895.9L165.1 895.9 M995 895.9L988 895.9 M158.1 879.7L165.1 879.7 M995 879.7L988 879.7 M158.1 865.7L165.1 865.7 M995 865.7L988 865.7 M158.1 853.4L165.1 853.4 M995 853.4L988 853.4 M158.1 1084L170.6 1084 M995 1084L982.5 1084 M158.1 1253L165.1 1253 M995 1253L988 1253 M158.1 1210.5L165.1 1210.5 M995 1210.5L988 1210.5 M158.1 1180.3L165.1 1180.3 M995 1180.3L988 1180.3 M158.1 1156.8L165.1 1156.8 M995 1156.8L988 1156.8 M158.1 1137.7L165.1 1137.7 M995 1137.7L988 1137.7 M158.1 1121.5L165.1 1121.5 M995 1121.5L988 1121.5 M158.1 1107.5L165.1 1107.5 M995 1107.5L988 1107.5 M158.1 1095.1L165.1 1095.1 M995 1095.1L988 1095.1 M158.1 1325.8L170.6 1325.8 M995 1325.8L982.5 1325.8 M158.1 1422L165.1 1422 M995 1422L988 1422 M158.1 1398.6L165.1 1398.6 M995 1398.6L988 1398.6 M158.1 1379.4L165.1 1379.4 M995 1379.4L988 1379.4 M158.1 1363.2L165.1 1363.2 M995 1363.2L988 1363.2 M158.1 1349.2L165.1 1349.2 M995 1349.2L988 1349.2 M158.1 1336.9L165.1 1336.9 M995 1336.9L988 1336.9 M244.8 1452.2L244.8 1445.7 M244.8 842.3L244.8 848.8 M306.4 1452.2L306.4 1445.7 M306.4 842.3L306.4 848.8 M354.1 1452.2L354.1 1445.7 M354.1 842.3L354.1 848.8 M393.1 1452.2L393.1 1445.7 M393.1 842.3L393.1 848.8 M426.1 1452.2L426.1 1445.7 M426.1 842.3L426.1 848.8 M454.7 1452.2L454.7 1445.7 M454.7 842.3L454.7 848.8 M479.9 1452.2L479.9 1445.7 M479.9 842.3L479.9 848.8 M502.4 1452.2L502.4 1439.7 M502.4 842.3L502.4 854.8 M650.7 1452.2L650.7 1445.7 M650.7 842.3L650.7 848.8 M737.4 1452.2L737.4 1445.7 M737.4 842.3L737.4 848.8 M799 1452.2L799 1445.7 M799 842.3L799 848.8 M846.7 1452.2L846.7 1445.7 M846.7 842.3L846.7 848.8 M885.7 1452.2L885.7 1445.7 M885.7 842.3L885.7 848.8 M918.7 1452.2L918.7 1445.7 M918.7 842.3L918.7 848.8 M947.3 1452.2L947.3 1445.7 M947.3 842.3L947.3 848.8 M972.5 1452.2L972.5 1445.7 M972.5 842.3L972.5 848.8" stroke="#000" stroke-width="3.3" fill="none"/>
<text x="118.3" y="860.9" font-size="48.5" text-anchor="end" font-weight="normal" stroke-width="0.73">10</text>
<text x="119.1" y="832.7" font-size="29" text-anchor="start" font-weight="normal" stroke-width="0.43">-5</text>
<text x="118.3" y="1102.6" font-size="48.5" text-anchor="end" font-weight="normal" stroke-width="0.73">10</text>
<text x="119.1" y="1074.4" font-size="29" text-anchor="start" font-weight="normal" stroke-width="0.43">-6</text>
<text x="118.3" y="1344.4" font-size="48.5" text-anchor="end" font-weight="normal" stroke-width="0.73">10</text>
<text x="119.1" y="1316.2" font-size="29" text-anchor="start" font-weight="normal" stroke-width="0.43">-7</text>
<text x="502.4" y="1504.1" font-size="48" text-anchor="middle" font-weight="normal" stroke-width="0.72">1</text>
<text x="993.6" y="1504.1" font-size="48" text-anchor="middle" font-weight="normal" stroke-width="0.72">10</text>
<text x="576.6" y="1578.5" font-size="49.5" text-anchor="middle" font-weight="normal" stroke-width="0.74">Voltage (V)</text>
<text x="37" y="1180" font-size="49.5" text-anchor="middle" font-weight="normal" stroke-width="0.74" transform="rotate(-90 37 1180)">Current (A)</text>
<text x="16.8" y="1572.8" font-size="55" font-weight="bold" stroke-width="0" textLength="73" lengthAdjust="spacingAndGlyphs"><tspan dy="-6">(</tspan><tspan dy="6">b</tspan><tspan dy="-6">)</tspan></text>
<line x1="213.7" y1="922.9" x2="259.8" y2="922.9" stroke="#000" stroke-width="5" stroke-linecap="butt"/>
<line x1="278.8" y1="922.9" x2="324.9" y2="922.9" stroke="#000" stroke-width="5" stroke-linecap="butt"/>
<g fill="#000">
<rect x="262.3" y="915.9" width="14" height="14"/>
</g>
<line x1="213.7" y1="983.5" x2="259.2" y2="983.5" stroke="#00f" stroke-width="5" stroke-linecap="butt"/>
<line x1="279.3" y1="983.5" x2="324.9" y2="983.5" stroke="#00f" stroke-width="5" stroke-linecap="butt"/>
<g fill="#00f">
<circle cx="269.3" cy="983.5" r="7.8"/>
</g>
<text x="338" y="940" font-size="50" text-anchor="start" font-weight="normal" stroke-width="0.75">-5 V</text>
<text x="338" y="1000" font-size="50" text-anchor="start" font-weight="normal" stroke-width="0.75">-4 V</text>
<text x="892" y="985" font-size="46" text-anchor="start" font-weight="normal" stroke-width="0.69">V</text>
<text x="925" y="1005" font-size="29" text-anchor="start" font-weight="normal" stroke-width="0.43">set</text>
<line x1="889" y1="925.7" x2="870.4" y2="895.4" stroke="#000" stroke-width="3.4" stroke-linecap="butt"/>
<polygon points="860,878.3 876.5,894 866.5,900.1" fill="#000"/>
<line x1="838" y1="1055" x2="855.1" y2="974.6" stroke="#000" stroke-width="3.4" stroke-linecap="butt"/>
<polygon points="859.3,955 860.4,977.7 849,975.3" fill="#000"/>
<line x1="688" y1="972" x2="634.9" y2="1034.7" stroke="#000" stroke-width="3.4" stroke-linecap="butt"/>
<polygon points="622,1050 631.7,1029.4 640.7,1037" fill="#000"/>
<line x1="560.3" y1="1286" x2="660.6" y2="1214" stroke="#000" stroke-width="3.4" stroke-linecap="butt"/>
<polygon points="676.8,1202.3 662.3,1219.9 655.5,1210.4" fill="#000"/>
</g>
<g id="panel-c">
<g fill="#000">
<rect x="246.6" y="2251.2" width="13.5" height="13.5"/>
<rect x="255.7" y="2235.3" width="13.5" height="13.5"/>
<rect x="264.8" y="2220.2" width="13.5" height="13.5"/>
<rect x="273.9" y="2205.2" width="13.5" height="13.5"/>
<rect x="283" y="2190.1" width="13.5" height="13.5"/>
<rect x="292.1" y="2175.8" width="13.5" height="13.5"/>
<rect x="301.2" y="2160.8" width="13.5" height="13.5"/>
<rect x="310.3" y="2145.7" width="13.5" height="13.5"/>
<rect x="319.4" y="2131.8" width="13.5" height="13.5"/>
<rect x="328.5" y="2117.6" width="13.5" height="13.5"/>
<rect x="337.6" y="2104.7" width="13.5" height="13.5"/>
<rect x="346.6" y="2091.7" width="13.5" height="13.5"/>
<rect x="355.7" y="2078.8" width="13.5" height="13.5"/>
<rect x="364.8" y="2066.7" width="13.5" height="13.5"/>
<rect x="373.9" y="2054.2" width="13.5" height="13.5"/>
<rect x="383" y="2042.1" width="13.5" height="13.5"/>
<rect x="392.1" y="2030.5" width="13.5" height="13.5"/>
<rect x="401.2" y="2020.5" width="13.5" height="13.5"/>
<rect x="410.3" y="2014" width="13.5" height="13.5"/>
<rect x="419.4" y="2008.8" width="13.5" height="13.5"/>
<rect x="428.5" y="2003.2" width="13.5" height="13.5"/>
</g>
<g fill="#000">
<rect x="246.6" y="2057.2" width="13.5" height="13.5"/>
<rect x="255.7" y="2052.8" width="13.5" height="13.5"/>
<rect x="264.8" y="2048.6" width="13.5" height="13.5"/>
<rect x="273.9" y="2045.2" width="13.5" height="13.5"/>
<rect x="283" y="2042.1" width="13.5" height="13.5"/>
<rect x="292.1" y="2038.7" width="13.5" height="13.5"/>
<rect x="301.2" y="2035.7" width="13.5" height="13.5"/>
<rect x="310.3" y="2033.5" width="13.5" height="13.5"/>
<rect x="319.4" y="2031" width="13.5" height="13.5"/>
<rect x="328.5" y="2028.2" width="13.5" height="13.5"/>
<rect x="337.6" y="2025.5" width="13.5" height="13.5"/>
<rect x="346.6" y="2023.1" width="13.5" height="13.5"/>
<rect x="355.7" y="2020.8" width="13.5" height="13.5"/>
<rect x="364.8" y="2018.5" width="13.5" height="13.5"/>
<rect x="373.9" y="2016.3" width="13.5" height="13.5"/>
<rect x="383" y="2014" width="13.5" height="13.5"/>
<rect x="392.1" y="2011.9" width="13.5" height="13.5"/>
<rect x="401.2" y="2009.8" width="13.5" height="13.5"/>
<rect x="410.3" y="2007.7" width="13.5" height="13.5"/>
<rect x="419.4" y="2005.6" width="13.5" height="13.5"/>
<rect x="428.5" y="2003.5" width="13.5" height="13.5"/>
<rect x="437.5" y="2001.5" width="13.5" height="13.5"/>
<rect x="446.6" y="1999.4" width="13.5" height="13.5"/>
<rect x="455.7" y="1997.3" width="13.5" height="13.5"/>
<rect x="464.8" y="1995.3" width="13.5" height="13.5"/>
<rect x="473.9" y="1993.2" width="13.5" height="13.5"/>
<rect x="483" y="1991.1" width="13.5" height="13.5"/>
<rect x="492.1" y="1989.1" width="13.5" height="13.5"/>
<rect x="501.2" y="1987" width="13.5" height="13.5"/>
<rect x="510.3" y="1984.9" width="13.5" height="13.5"/>
<rect x="519.4" y="1982.8" width="13.5" height="13.5"/>
<rect x="528.4" y="1980.6" width="13.5" height="13.5"/>
<rect x="537.5" y="1978.5" width="13.5" height="13.5"/>
<rect x="546.6" y="1976.3" width="13.5" height="13.5"/>
<rect x="555.7" y="1974.2" width="13.5" height="13.5"/>
<rect x="564.8" y="1972" width="13.5" height="13.5"/>
<rect x="573.9" y="1969.8" width="13.5" height="13.5"/>
<rect x="583" y="1967.6" width="13.5" height="13.5"/>
<rect x="592.1" y="1965.3" width="13.5" height="13.5"/>
<rect x="601.2" y="1963.1" width="13.5" height="13.5"/>
<rect x="610.2" y="1960.8" width="13.5" height="13.5"/>
<rect x="619.3" y="1958.4" width="13.5" height="13.5"/>
<rect x="628.4" y="1956.1" width="13.5" height="13.5"/>
<rect x="637.5" y="1953.8" width="13.5" height="13.5"/>
<rect x="646.6" y="1951.4" width="13.5" height="13.5"/>
<rect x="655.7" y="1949.1" width="13.5" height="13.5"/>
<rect x="664.8" y="1946.6" width="13.5" height="13.5"/>
<rect x="673.9" y="1944.1" width="13.5" height="13.5"/>
<rect x="683" y="1941.6" width="13.5" height="13.5"/>
<rect x="692.1" y="1939" width="13.5" height="13.5"/>
<rect x="701.2" y="1936.2" width="13.5" height="13.5"/>
<rect x="710.2" y="1933.4" width="13.5" height="13.5"/>
<rect x="719.3" y="1930.5" width="13.5" height="13.5"/>
<rect x="728.4" y="1927.4" width="13.5" height="13.5"/>
<rect x="737.5" y="1924.3" width="13.5" height="13.5"/>
<rect x="746.6" y="1921.1" width="13.5" height="13.5"/>
<rect x="755.7" y="1917.8" width="13.5" height="13.5"/>
<rect x="764.8" y="1914.5" width="13.5" height="13.5"/>
<rect x="773.9" y="1911.2" width="13.5" height="13.5"/>
<rect x="783" y="1907.8" width="13.5" height="13.5"/>
<rect x="792.1" y="1904.5" width="13.5" height="13.5"/>
<rect x="801.1" y="1901.1" width="13.5" height="13.5"/>
<rect x="810.2" y="1897.7" width="13.5" height="13.5"/>
<rect x="819.3" y="1894.2" width="13.5" height="13.5"/>
<rect x="828.4" y="1890.8" width="13.5" height="13.5"/>
<rect x="837.5" y="1887.2" width="13.5" height="13.5"/>
<rect x="846.6" y="1883.7" width="13.5" height="13.5"/>
<rect x="855.7" y="1880.1" width="13.5" height="13.5"/>
<rect x="864.8" y="1876.5" width="13.5" height="13.5"/>
<rect x="873.9" y="1872.8" width="13.5" height="13.5"/>
<rect x="883" y="1869.2" width="13.5" height="13.5"/>
</g>
<g fill="#f00">
<polygon points="253.4,2226.9 243.8,2242.9 263,2242.9"/>
<polygon points="262.5,2212.7 252.9,2228.7 272.1,2228.7"/>
<polygon points="271.6,2198.5 262,2214.5 281.2,2214.5"/>
<polygon points="280.7,2184.7 271.1,2200.7 290.3,2200.7"/>
<polygon points="289.8,2171.7 280.2,2187.7 299.4,2187.7"/>
<polygon points="298.9,2157.9 289.2,2173.9 308.5,2173.9"/>
<polygon points="307.9,2143.7 298.3,2159.7 317.5,2159.7"/>
<polygon points="317,2129.9 307.4,2145.9 326.6,2145.9"/>
<polygon points="326.1,2116.9 316.5,2132.9 335.7,2132.9"/>
<polygon points="335.2,2103.6 325.6,2119.6 344.8,2119.6"/>
<polygon points="344.3,2091 334.7,2107 353.9,2107"/>
<polygon points="353.4,2079 343.8,2095 363,2095"/>
<polygon points="362.5,2066.9 352.9,2082.9 372.1,2082.9"/>
<polygon points="371.6,2055.2 362,2071.2 381.2,2071.2"/>
<polygon points="380.7,2043.6 371.1,2059.6 390.3,2059.6"/>
<polygon points="389.8,2031.8 380.1,2047.8 399.4,2047.8"/>
<polygon points="398.8,2021.9 389.2,2037.9 408.4,2037.9"/>
<polygon points="407.9,2013.3 398.3,2029.3 417.5,2029.3"/>
<polygon points="417,2007.9 407.4,2023.9 426.6,2023.9"/>
<polygon points="426.1,2003.6 416.5,2019.6 435.7,2019.6"/>
<polygon points="435.2,1999.3 425.6,2015.3 444.8,2015.3"/>
</g>
<g fill="#f00">
<polygon points="253.4,2101.3 243.8,2117.3 263,2117.3"/>
<polygon points="262.5,2082.8 252.9,2098.8 272.1,2098.8"/>
<polygon points="271.6,2068.5 262,2084.5 281.2,2084.5"/>
<polygon points="280.7,2056.9 271.1,2072.9 290.3,2072.9"/>
<polygon points="289.8,2048.3 280.2,2064.3 299.4,2064.3"/>
<polygon points="298.9,2041.5 289.2,2057.5 308.5,2057.5"/>
<polygon points="307.9,2036.3 298.3,2052.3 317.5,2052.3"/>
<polygon points="317,2031.8 307.4,2047.8 326.6,2047.8"/>
<polygon points="326.1,2027.8 316.5,2043.8 335.7,2043.8"/>
<polygon points="335.2,2024.6 325.6,2040.6 344.8,2040.6"/>
<polygon points="344.3,2021.6 334.7,2037.6 353.9,2037.6"/>
<polygon points="353.4,2019.2 343.8,2035.2 363,2035.2"/>
<polygon points="362.5,2016.8 352.9,2032.8 372.1,2032.8"/>
<polygon points="371.6,2014.6 362,2030.6 381.2,2030.6"/>
<polygon points="380.7,2012.3 371.1,2028.3 390.3,2028.3"/>
<polygon points="389.8,2010.1 380.1,2026.1 399.4,2026.1"/>
<polygon points="398.8,2008 389.2,2024 408.4,2024"/>
<polygon points="407.9,2005.9 398.3,2021.9 417.5,2021.9"/>
<polygon points="417,2003.8 407.4,2019.8 426.6,2019.8"/>
<polygon points="426.1,2001.7 416.5,2017.7 435.7,2017.7"/>
<polygon points="435.2,1999.6 425.6,2015.6 444.8,2015.6"/>
<polygon points="444.3,1997.5 434.7,2013.5 453.9,2013.5"/>
<polygon points="453.4,1995.5 443.8,2011.5 463,2011.5"/>
<polygon points="462.5,1993.4 452.9,2009.4 472.1,2009.4"/>
<polygon points="471.6,1991.4 462,2007.4 481.2,2007.4"/>
<polygon points="480.7,1989.3 471.1,2005.3 490.3,2005.3"/>
<polygon points="489.7,1987.2 480.1,2003.2 499.3,2003.2"/>
<polygon points="498.8,1985.2 489.2,2001.2 508.4,2001.2"/>
<polygon points="507.9,1983.1 498.3,1999.1 517.5,1999.1"/>
<polygon points="517,1981 507.4,1997 526.6,1997"/>
<polygon points="526.1,1978.8 516.5,1994.8 535.7,1994.8"/>
<polygon points="535.2,1976.7 525.6,1992.7 544.8,1992.7"/>
<polygon points="544.3,1974.6 534.7,1990.6 553.9,1990.6"/>
<polygon points="553.4,1972.4 543.8,1988.4 563,1988.4"/>
<polygon points="562.5,1970.2 552.9,1986.2 572.1,1986.2"/>
<polygon points="571.6,1968.1 562,1984.1 581.2,1984.1"/>
<polygon points="580.6,1965.9 571,1981.9 590.2,1981.9"/>
<polygon points="589.7,1963.6 580.1,1979.6 599.3,1979.6"/>
<polygon points="598.8,1961.4 589.2,1977.4 608.4,1977.4"/>
<polygon points="607.9,1959.1 598.3,1975.1 617.5,1975.1"/>
<polygon points="617,1956.8 607.4,1972.8 626.6,1972.8"/>
<polygon points="626.1,1954.5 616.5,1970.5 635.7,1970.5"/>
<polygon points="635.2,1952.2 625.6,1968.2 644.8,1968.2"/>
<polygon points="644.3,1949.9 634.7,1965.9 653.9,1965.9"/>
<polygon points="653.4,1947.5 643.8,1963.5 663,1963.5"/>
<polygon points="662.5,1945.1 652.9,1961.1 672.1,1961.1"/>
<polygon points="671.5,1942.7 661.9,1958.7 681.1,1958.7"/>
<polygon points="680.6,1940.2 671,1956.2 690.2,1956.2"/>
<polygon points="689.7,1937.7 680.1,1953.7 699.3,1953.7"/>
<polygon points="698.8,1935.1 689.2,1951.1 708.4,1951.1"/>
<polygon points="707.9,1932.3 698.3,1948.3 717.5,1948.3"/>
</g>
<rect x="162.5" y="1690.8" width="818.1" height="596.7" fill="none" stroke="#000" stroke-width="3.1"/>
<path d="M162.5 1765.4L169 1765.4 M980.6 1765.4L974.1 1765.4 M162.5 1840L175.5 1840 M980.6 1840L967.6 1840 M162.5 1914.6L169 1914.6 M980.6 1914.6L974.1 1914.6 M162.5 1989.2L175.5 1989.2 M980.6 1989.2L967.6 1989.2 M162.5 2063.7L169 2063.7 M980.6 2063.7L974.1 2063.7 M162.5 2138.3L175.5 2138.3 M980.6 2138.3L967.6 2138.3 M162.5 2212.9L169 2212.9 M980.6 2212.9L974.1 2212.9 M253.4 2287.5L253.4 2280.5 M253.4 1690.8L253.4 1697.8 M344.3 2287.5L344.3 2274.5 M344.3 1690.8L344.3 1703.8 M435.2 2287.5L435.2 2280.5 M435.2 1690.8L435.2 1697.8 M526.1 2287.5L526.1 2274.5 M526.1 1690.8L526.1 1703.8 M617 2287.5L617 2280.5 M617 1690.8L617 1697.8 M707.9 2287.5L707.9 2274.5 M707.9 1690.8L707.9 1703.8 M798.8 2287.5L798.8 2280.5 M798.8 1690.8L798.8 1697.8 M889.7 2287.5L889.7 2274.5 M889.7 1690.8L889.7 1703.8" stroke="#000" stroke-width="3.0" fill="none"/>
<text x="148.8" y="1703.6" font-size="47.5" text-anchor="end" font-weight="normal" stroke-width="0.71">5.0</text>
<text x="148.8" y="1852.8" font-size="47.5" text-anchor="end" font-weight="normal" stroke-width="0.71">2.5</text>
<text x="148.8" y="2002" font-size="47.5" text-anchor="end" font-weight="normal" stroke-width="0.71">0.0</text>
<text x="148.8" y="2151.1" font-size="47.5" text-anchor="end" font-weight="normal" stroke-width="0.71">-2.5</text>
<text x="148.8" y="2300.3" font-size="47.5" text-anchor="end" font-weight="normal" stroke-width="0.71">-5.0</text>
<text x="162.5" y="2338" font-size="47.5" text-anchor="middle" font-weight="normal" stroke-width="0.71">-4</text>
<text x="344.3" y="2338" font-size="47.5" text-anchor="middle" font-weight="normal" stroke-width="0.71">-2</text>
<text x="526.1" y="2338" font-size="47.5" text-anchor="middle" font-weight="normal" stroke-width="0.71">0</text>
<text x="707.9" y="2338" font-size="47.5" text-anchor="middle" font-weight="normal" stroke-width="0.71">2</text>
<text x="889.7" y="2338" font-size="47.5" text-anchor="middle" font-weight="normal" stroke-width="0.71">4</text>
<text x="607.3" y="2402" font-size="48.3" text-anchor="middle" font-weight="normal" stroke-width="0.72">Voltage (V)</text>
<text x="49.5" y="1975.5" font-size="48.5" text-anchor="middle" font-weight="normal" stroke-width="0.73" transform="rotate(-90 49.5 1975.5)">Current (&#956;A)</text>
<text x="11.5" y="2390.5" font-size="55" font-weight="bold" stroke-width="0" textLength="68.5" lengthAdjust="spacingAndGlyphs"><tspan dy="-4.5">(</tspan><tspan dy="4.5">c</tspan><tspan dy="-4.5">)</tspan></text>
<line x1="729.7" y1="2079.3" x2="774.2" y2="2079.3" stroke="#000" stroke-width="5" stroke-linecap="butt"/>
<line x1="793.8" y1="2079.3" x2="838.2" y2="2079.3" stroke="#000" stroke-width="5" stroke-linecap="butt"/>
<g fill="#000">
<rect x="777" y="2072.3" width="14" height="14"/>
</g>
<line x1="729.7" y1="2138.6" x2="774.4" y2="2138.6" stroke="#f00" stroke-width="5" stroke-linecap="butt"/>
<line x1="793.6" y1="2138.6" x2="838.2" y2="2138.6" stroke="#f00" stroke-width="5" stroke-linecap="butt"/>
<g fill="#f00">
<polygon points="784,2127.8 774.2,2144 793.7,2144"/>
</g>
<text x="850.5" y="2095.6" font-size="48" text-anchor="start" font-weight="normal" stroke-width="0.72">4 V</text>
<text x="850.5" y="2154.8" font-size="48" text-anchor="start" font-weight="normal" stroke-width="0.72">2 V</text>
<text x="741" y="1786.2" font-size="46.5" text-anchor="start" font-weight="normal" stroke-width="0.7">V</text>
<text x="773" y="1807" font-size="29" text-anchor="start" font-weight="normal" stroke-width="0.43">reset</text>
<line x1="841.7" y1="1823.9" x2="870.6" y2="1846.3" stroke="#000" stroke-width="3.3" stroke-linecap="butt"/>
<polygon points="884.8,1857.3 865.6,1849.4 872.4,1840.7" fill="#000"/>
<line x1="763.7" y1="1892.5" x2="674.1" y2="1919.7" stroke="#000" stroke-width="3.3" stroke-linecap="butt"/>
<polygon points="656.9,1924.9 674.4,1913.8 677.6,1924.4" fill="#000"/>
<line x1="579.4" y1="2006.8" x2="699.6" y2="1980.3" stroke="#000" stroke-width="3.3" stroke-linecap="butt"/>
<polygon points="717.2,1976.4 698.9,1986.1 696.5,1975.3" fill="#000"/>
<line x1="342" y1="2178.3" x2="372.7" y2="2128.8" stroke="#000" stroke-width="3.3" stroke-linecap="butt"/>
<polygon points="382.2,2113.5 376.3,2133.4 367,2127.6" fill="#000"/>
<rect x="256.8" y="1722.8" width="269" height="193.7" fill="#fff"/>
<g fill="#000">
<rect x="285.8" y="1882.9" width="9.2" height="9.2"/>
<rect x="289.2" y="1877.8" width="9.2" height="9.2"/>
<rect x="292.5" y="1872.8" width="9.2" height="9.2"/>
<rect x="295.9" y="1867.7" width="9.2" height="9.2"/>
<rect x="299.3" y="1862.7" width="9.2" height="9.2"/>
<rect x="302.6" y="1857.6" width="9.2" height="9.2"/>
<rect x="306" y="1852.5" width="9.2" height="9.2"/>
<rect x="309.4" y="1847.5" width="9.2" height="9.2"/>
<rect x="312.7" y="1842.4" width="9.2" height="9.2"/>
<rect x="316.1" y="1837.4" width="9.2" height="9.2"/>
<rect x="319.4" y="1832.3" width="9.2" height="9.2"/>
<rect x="322.8" y="1827.2" width="9.2" height="9.2"/>
<rect x="326.2" y="1822.2" width="9.2" height="9.2"/>
<rect x="329.5" y="1817.2" width="9.2" height="9.2"/>
<rect x="332.9" y="1812.1" width="9.2" height="9.2"/>
<rect x="336.3" y="1806.7" width="9.2" height="9.2"/>
<rect x="339.6" y="1802.3" width="9.2" height="9.2"/>
<rect x="343" y="1799.3" width="9.2" height="9.2"/>
<rect x="346.3" y="1797.3" width="9.2" height="9.2"/>
</g>
<g fill="#fff"><rect x="287.5" y="1887.9" width="5.6" height="2.6"/><rect x="290.9" y="1882.8" width="5.6" height="2.6"/><rect x="294.2" y="1877.8" width="5.6" height="2.6"/><rect x="297.6" y="1872.7" width="5.6" height="2.6"/><rect x="301" y="1867.7" width="5.6" height="2.6"/><rect x="304.3" y="1862.6" width="5.6" height="2.6"/><rect x="307.7" y="1857.5" width="5.6" height="2.6"/><rect x="311.1" y="1852.5" width="5.6" height="2.6"/><rect x="314.4" y="1847.4" width="5.6" height="2.6"/><rect x="317.8" y="1842.4" width="5.6" height="2.6"/><rect x="321.1" y="1837.3" width="5.6" height="2.6"/><rect x="324.5" y="1832.2" width="5.6" height="2.6"/><rect x="327.9" y="1827.2" width="5.6" height="2.6"/><rect x="331.2" y="1822.2" width="5.6" height="2.6"/><rect x="334.6" y="1817.1" width="5.6" height="2.6"/><rect x="338" y="1811.7" width="5.6" height="2.6"/><rect x="341.3" y="1807.3" width="5.6" height="2.6"/><rect x="344.7" y="1804.3" width="5.6" height="2.6"/><rect x="348.1" y="1802.3" width="5.6" height="2.6"/></g>
<path d="M290.4 1816.1 L293.8 1814.8 L297.1 1813.6 L300.5 1812.4 L303.9 1811.2 L307.2 1810 L310.6 1808.8 L314 1807.7 L317.3 1806.6 L320.7 1805.5 L324 1804.4 L327.4 1803.4 L330.8 1802.3 L334.1 1801.3 L337.5 1800.3 L340.9 1799.4 L344.2 1798.4 L347.6 1797.5 L350.9 1796.6 L354.3 1795.7 L357.7 1794.8 L361 1794 L364.4 1793.1 L367.8 1792.3 L371.1 1791.5 L374.5 1790.6 L377.8 1789.8 L381.2 1789.1 L384.6 1788.3 L387.9 1787.5 L391.3 1786.7 L394.7 1786 L398 1785.2 L401.4 1784.5 L404.7 1783.8 L408.1 1783.1 L411.5 1782.4 L414.8 1781.7 L418.2 1781 L421.6 1780.3 L424.9 1779.6 L428.3 1778.8 L431.6 1778 L435 1777.2 L438.4 1776.3 L441.7 1775.5 L445.1 1774.6 L448.5 1773.7 L451.8 1772.8 L455.2 1771.8 L458.5 1770.9 L461.9 1769.9 L465.3 1769 L468.6 1768 L472 1767 L475.4 1766 L478.7 1764.9 L482.1 1763.9 L485.4 1762.8 L488.8 1761.7 L492.2 1760.6" stroke="#00f" stroke-width="10.2" fill="none" stroke-linecap="round" stroke-linejoin="round"/>
<path d="M292.8 1819.4L294.7 1816.4 M296.1 1818.2L298 1815.2 M299.5 1817L301.4 1814 M302.9 1815.8L304.8 1812.8 M306.2 1814.6L308.1 1811.6 M309.6 1813.4L311.5 1810.4 M313 1812.3L314.9 1809.3 M316.3 1811.2L318.2 1808.2 M319.7 1810.1L321.6 1807.1 M323 1809L324.9 1806 M326.4 1808L328.3 1805 M329.8 1806.9L331.7 1803.9 M333.1 1805.9L335 1802.9 M336.5 1804.9L338.4 1801.9 M339.9 1804L341.8 1801 M343.2 1803L345.1 1800 M346.6 1802.1L348.5 1799.1 M349.9 1801.2L351.8 1798.2 M353.3 1800.3L355.2 1797.3 M356.7 1799.4L358.6 1796.4 M360 1798.6L361.9 1795.6 M363.4 1797.7L365.3 1794.7 M366.8 1796.9L368.7 1793.9 M370.1 1796.1L372 1793.1 M373.5 1795.2L375.4 1792.2 M376.8 1794.4L378.7 1791.4 M380.2 1793.7L382.1 1790.7 M383.6 1792.9L385.5 1789.9 M386.9 1792.1L388.8 1789.1 M390.3 1791.3L392.2 1788.3 M393.7 1790.6L395.6 1787.6 M397 1789.8L398.9 1786.8 M400.4 1789.1L402.3 1786.1 M403.7 1788.4L405.6 1785.4 M407.1 1787.7L409 1784.7 M410.5 1787L412.4 1784 M413.8 1786.3L415.7 1783.3 M417.2 1785.6L419.1 1782.6 M420.6 1784.9L422.5 1781.9 M423.9 1784.2L425.8 1781.2 M427.3 1783.4L429.2 1780.4 M430.6 1782.6L432.5 1779.6 M434 1781.8L435.9 1778.8 M437.4 1780.9L439.3 1777.9 M440.7 1780.1L442.6 1777.1 M444.1 1779.2L446 1776.2 M447.5 1778.3L449.4 1775.3 M450.8 1777.4L452.7 1774.4 M454.2 1776.4L456.1 1773.4 M457.5 1775.5L459.4 1772.5 M460.9 1774.5L462.8 1771.5 M464.3 1773.6L466.2 1770.6 M467.6 1772.6L469.5 1769.6 M471 1771.6L472.9 1768.6 M474.4 1770.6L476.3 1767.6 M477.7 1769.5L479.6 1766.5 M481.1 1768.5L483 1765.5 M484.4 1767.4L486.3 1764.4 M487.8 1766.3L489.7 1763.3 M491.2 1765.2L493.1 1762.2" stroke="#fff" stroke-width="1.3" fill="none"/>
<ellipse cx="290.8" cy="1817.7" rx="3.6" ry="2.3" fill="#fff" transform="rotate(-20 290.8 1817.7)"/>
<rect x="256.8" y="1722.8" width="269" height="193.7" fill="none" stroke="#000" stroke-width="2.2"/>
<path d="M256.8 1722.8L261 1722.8 M525.8 1722.8L521.6 1722.8 M256.8 1755.1L259.4 1755.1 M525.8 1755.1L523.2 1755.1 M256.8 1787.4L261 1787.4 M525.8 1787.4L521.6 1787.4 M256.8 1819.7L259.4 1819.7 M525.8 1819.7L523.2 1819.7 M256.8 1851.9L261 1851.9 M525.8 1851.9L521.6 1851.9 M256.8 1884.2L259.4 1884.2 M525.8 1884.2L523.2 1884.2 M256.8 1916.5L261 1916.5 M525.8 1916.5L521.6 1916.5 M256.8 1916.5L256.8 1912.3 M256.8 1722.8L256.8 1727 M290.4 1916.5L290.4 1913.9 M290.4 1722.8L290.4 1725.4 M324 1916.5L324 1912.3 M324 1722.8L324 1727 M357.7 1916.5L357.7 1913.9 M357.7 1722.8L357.7 1725.4 M391.3 1916.5L391.3 1912.3 M391.3 1722.8L391.3 1727 M424.9 1916.5L424.9 1913.9 M424.9 1722.8L424.9 1725.4 M458.5 1916.5L458.5 1912.3 M458.5 1722.8L458.5 1727 M492.2 1916.5L492.2 1913.9 M492.2 1722.8L492.2 1725.4 M525.8 1916.5L525.8 1912.3 M525.8 1722.8L525.8 1727" stroke="#000" stroke-width="2.1" fill="none"/>
<text x="251.8" y="1733.4" font-size="31.5" text-anchor="end" font-weight="normal" stroke-width="0.47">3</text>
<text x="251.8" y="1798" font-size="31.5" text-anchor="end" font-weight="normal" stroke-width="0.47">0</text>
<text x="251.8" y="1862.5" font-size="31.5" text-anchor="end" font-weight="normal" stroke-width="0.47">-3</text>
<text x="251.8" y="1927.1" font-size="31.5" text-anchor="end" font-weight="normal" stroke-width="0.47">-6</text>
<text x="256.8" y="1947.5" font-size="31.5" text-anchor="middle" font-weight="normal" stroke-width="0.47">-4</text>
<text x="324" y="1947.5" font-size="31.5" text-anchor="middle" font-weight="normal" stroke-width="0.47">-2</text>
<text x="391.3" y="1947.5" font-size="31.5" text-anchor="middle" font-weight="normal" stroke-width="0.47">0</text>
<text x="458.5" y="1947.5" font-size="31.5" text-anchor="middle" font-weight="normal" stroke-width="0.47">2</text>
<text x="525.8" y="1947.5" font-size="31.5" text-anchor="middle" font-weight="normal" stroke-width="0.47">4</text>
<text x="391.7" y="1971.3" font-size="31.3" text-anchor="middle" font-weight="normal" stroke-width="0.47">Voltage (V)</text>
<text x="211.8" y="1820.7" font-size="31.3" text-anchor="middle" font-weight="normal" stroke-width="0.47" transform="rotate(-90 211.8 1820.7)">Current (&#956;A)</text>
<text x="281.5" y="1760.1" font-size="31.2" text-anchor="start" font-weight="normal" stroke-width="0.47">After V</text>
<text x="379" y="1772.2" font-size="19" text-anchor="start" font-weight="normal" stroke-width="0.28">reset</text>
<text x="348.3" y="1893.2" font-size="31.2" text-anchor="start" font-weight="normal" stroke-width="0.47">After V</text>
<text x="446.5" y="1906" font-size="19" text-anchor="start" font-weight="normal" stroke-width="0.28">set</text>
<line x1="324.9" y1="1768.2" x2="315.1" y2="1787.7" stroke="#000" stroke-width="2.5" stroke-linecap="butt"/>
<polygon points="310,1798 311.8,1783.8 320.3,1788" fill="#000"/>
<line x1="334.6" y1="1882.4" x2="320.4" y2="1875.8" stroke="#000" stroke-width="2.5" stroke-linecap="butt"/>
<polygon points="310,1871 324.2,1872.4 320.3,1881" fill="#000"/>
</g>
</svg></body></html>
